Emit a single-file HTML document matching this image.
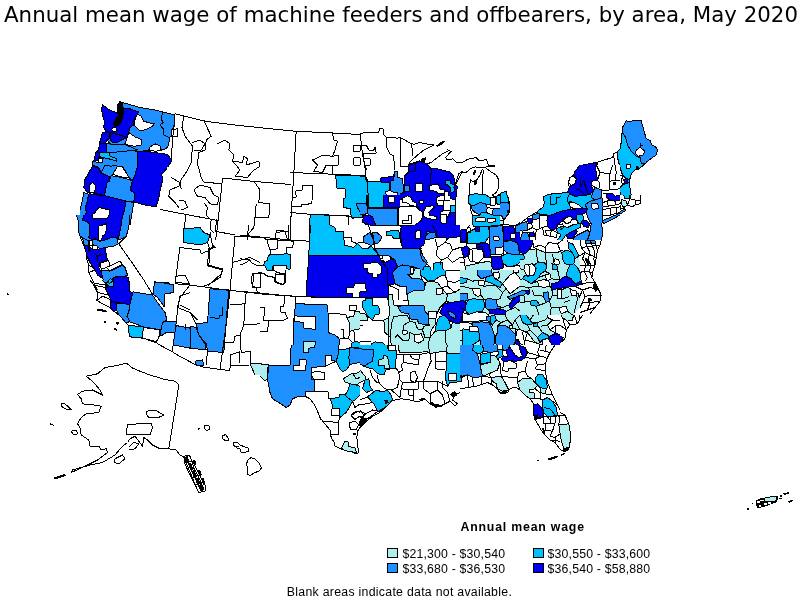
<!DOCTYPE html>
<html><head><meta charset="utf-8"><title>Annual mean wage of machine feeders and offbearers, by area, May 2020</title>
<style>
html,body{margin:0;padding:0;background:#fff;}
body{width:800px;height:600px;overflow:hidden;position:relative;}
svg{position:absolute;left:0;top:0;}
.a{stroke:#000;stroke-width:1;stroke-linejoin:round;}
.l{fill:none;stroke:#000;stroke-width:1;stroke-linejoin:round;}
.t{font-family:"DejaVu Sans","Liberation Sans",sans-serif;font-size:21.9px;fill:#000;}
.g{font-family:"Liberation Sans",sans-serif;font-size:12.3px;fill:#000;}
.h{font-family:"Liberation Sans",sans-serif;font-size:12.3px;font-weight:bold;fill:#000;}
.s{stroke:#000;stroke-width:1;}
</style></head><body>
<svg width="800" height="600" viewBox="0 0 800 600">
<rect width="800" height="600" fill="#fff"/>
<g id="map" shape-rendering="crispEdges">
<polygon class="a" fill="#1E90FF" points="122.5,102.5 140,107.5 155,110 165,112.5 175,115 174,127.5 171.9,130 171.9,135.6 169.4,137.5 168.8,145 166.2,148.8 161.2,150 150,146.9 148.8,150 142.5,151.2 137.5,151.2 135,148.8 123.8,147.5 123.8,145 128.1,133.8 130,127.5 133.8,120 137.5,113.1 130,108.8 122.5,108.8"/>
<polygon class="a" fill="#0000EE" points="102.5,105 110,110.2 117.5,113.1 122.5,108.8 130,108.8 138.8,111.9 136.9,115 133.8,120 133.8,125 130,127.5 128.1,133.8 127.5,137.8 122.5,136 117.5,134 110.6,132.5 106.2,131.2 103.8,127.5 104.4,121.2 102.5,115 101.5,108.8"/>
<polygon class="a" fill="#0000EE" points="105.6,131.9 110,133.1 109.4,138.8 106.9,140 105,145 103.1,148.8 98.8,150 99.4,143.8 102.5,132.5"/>
<polygon class="a" fill="#0000EE" points="110,132.5 127.5,137.5 122.5,139.4 117.5,142.5 111.2,141.9"/>
<polygon class="a" fill="#1E90FF" points="110,133.1 110,135.6 111.2,141.9 117.5,142.5 122.5,139.4 127.5,137.8 123.8,145 123.8,147.5 117.5,148.8 112.5,146.2 106.9,140 109.4,138.8"/>
<polygon class="a" fill="#FFFFFF" points="137.5,114.4 141.2,116.2 143.8,121.2 150,123.1 155,123.1 152.5,126.2 147.5,128.8 142.5,130.6 138.8,130 135,126.2 134.4,121.2 136.2,116.9"/>
<polygon class="a" fill="#FFFFFF" points="128.8,132.5 135,136.9 141.2,139.4 141.2,145 135,146.2 130,145.6 125,144.4 126.9,138.8"/>
<polygon class="a" fill="#FFFFFF" points="150,146.9 155,143.8 160,145.6 161.2,150.6 155,151.2 149.4,150"/>
<polygon class="a" fill="#FFFFFF" points="112.2,127.5 115.6,126.9 117.2,130.6 114.4,131.9 111.9,130"/>
<polygon fill="#000" points="116.9,105.6 119.4,101 122.8,101.9 124,110 123.4,116.2 122.1,120 120.2,125 115.6,126.5 112.5,123.8 115.4,119.4 117.9,115 117.2,110"/>
<polyline class="l" points="162.5,112.5 161.2,118.8 163.1,122.5 160,125 163.1,128.8 163.8,135 169.4,137.5"/>
<polygon class="a" fill="#0000EE" points="137.5,151.2 150,151.9 167.5,154.4 171.9,160.6 167.5,167.5 161.9,174.4 162.5,181.2 160,191.2 158.8,198.8 156.2,206.9 145,205 133.8,201.9 135,193.1 130,190.6 132.5,180.6 135,175 137.5,166.2"/>
<polygon fill="#1E90FF" points="108.8,150 118.8,150 137.5,151.2 137.5,166.2 135,175 132.5,180.6 129.4,178.1 122.5,166.2 117.5,166.2 112.8,174.4 110,176.9 101.2,172.5 98.8,167.5 92.5,165 92.5,161.2 98.8,162.5 100,157.5 99.4,153.1 105,151.2"/>
<path class="l" d="M118.8,150L137.5,151.2L137.5,166.2L135,175L132.5,180.6L129.4,178.1L122.5,166.2L117.5,166.2L112.8,174.4L110,176.9L101.2,172.5L98.8,167.5L92.5,165L92.5,161.2L98.8,162.5L100,157.5L99.4,153.1L105,151.2L108.8,150"/>
<polygon class="a" fill="#FFFFFF" points="117.5,166.2 121.9,166.2 129.4,178.1 121.2,176.9 112.8,174.4"/>
<polygon class="a" fill="#00BFFF" points="99.4,153.1 108.8,151.9 110,156.2 116.9,158.8 116.9,161.2 108.8,158.8 100,156.9"/>
<polygon class="a" fill="#0000EE" points="96.2,151.2 99.4,153.1 98.8,160 93.8,161.2"/>
<polygon class="a" fill="#FFFFFF" points="98.8,158.1 103.1,158.1 102.5,162.5 98.8,162.5"/>
<polygon class="a" fill="#0000EE" points="92.5,166.2 98.8,168.1 101.2,173.1 110,176.9 109.4,181.2 106.9,183.1 104.4,195.6 93.8,193.1 87.5,192.5 83.8,187.5 85,179.4 88.8,172.5"/>
<polygon class="a" fill="#FFFFFF" points="90,184.4 92.5,182.8 96,185.6 94.4,192.5 89.4,191.9"/>
<polygon class="a" fill="#1E90FF" points="111.2,175.6 121.2,177.5 132.5,180.6 130,190.6 135,193.1 133.8,201.9 126.2,201.2 104.4,195.6 106.9,183.1 109.4,181.2"/>
<polygon fill="#1E90FF" points="83.8,192.5 88.8,194.4 87.5,200 85.6,206.2 86.2,212.5 82.5,220 81.2,225 80,225 80,210 82.5,200"/>
<path class="l" d="M83.8,192.5L88.8,194.4L87.5,200L85.6,206.2L86.2,212.5L82.5,220L81.2,225M80,210L82.5,200L83.8,192.5"/>
<polygon fill="#0000EE" points="88.8,193.8 104.4,195.6 126.2,201.2 123.8,212.5 121.2,225 82.5,225 86.2,212.5 85.6,206.2 87.5,200"/>
<path class="l" d="M88.8,193.8L104.4,195.6L126.2,201.2L123.8,212.5L121.2,225M82.5,225L86.2,212.5L85.6,206.2L87.5,200L88.8,193.8"/>
<polygon class="a" fill="#FFFFFF" points="98.8,207.5 110,210 108.8,218.8 98.8,218.1 90.6,216.2 95,212.5"/>
<polygon fill="#1E90FF" points="126.2,201.2 133.8,202.5 130,225 121.2,225 123.8,212.5"/>
<path class="l" d="M126.2,201.2L133.8,202.5L130,225M121.2,225L123.8,212.5L126.2,201.2"/>
<polyline class="l" points="101.2,172.5 105,165 111.2,166.2 116.9,165"/>
<polygon class="a" fill="#1E90FF" points="106.2,143.8 126.2,145 137.5,150 117.5,152 100,153 97.5,151.2 100,146.2"/>
<polygon class="a" fill="#0000EE" points="100,143.8 106.2,143.8 106.2,152 97.5,152.5"/>
<polyline class="l" points="175,113.8 205,121.2 235,125 265,128.2 295,131.2 332.5,133 360,134.5"/>
<polyline class="l" points="296.2,131.2 295,152.5 293.8,173.8 292.5,193.8 291.2,212.5 290,240"/>
<polyline class="l" points="222.5,178 255,181.5 291.2,184.5"/>
<polyline class="l" points="222.5,178 220,202.5 217,230 215.5,240"/>
<polyline class="l" points="160,209.5 186.2,214.5 218,220.5"/>
<polyline class="l" points="175,113.8 173.8,127.5 172.5,140 171.2,161.2"/>
<polyline class="l" points="203.8,120 208.8,131.2 211.2,136.2 206.2,140 205,150 198.8,152.5 197.5,163.8 201.2,177.5 203.8,182 221.2,183.8"/>
<polyline class="l" points="183.8,116.2 182,127.5 185,136.2 192.5,146.2 191.2,162.5 187,171.2 181.2,179.5 178.8,186.2 170,190 168.8,196.2 175,202.5 178.8,207.5"/>
<polyline class="l" points="192.5,142.5 200,140 205,143.8 201.2,150 193.8,150"/>
<polyline class="l" points="171.2,130 177.5,128.8 178,136.2 172,136.2"/>
<polyline class="l" points="217.5,143.8 225,140 230,143.8 228.8,150 233.8,155 232.5,161.2 242.5,162.5 243.8,156.2 247.5,158.8 246.2,165 258.8,161.2 260,166.2 252.5,171.2 247.5,177.5 235,176.2 240,170 236.2,165 232.5,161.2"/>
<polyline class="l" points="253.8,181.2 260,190 258.8,202.5 270,203.8 268.8,217.5 255,217.5 253.8,227.5 247.5,235 247.5,240"/>
<polyline class="l" points="256.2,203.8 255,217.5"/>
<polyline class="l" points="332.5,133 333.8,140 337.5,141.2 335,150 332.5,156.2 338.8,155.5 338,165 332.5,165 332.5,173.8"/>
<polyline class="l" points="312.5,160 322.5,155.5 332.5,156.2"/>
<polyline class="l" points="312.5,160 317.5,165 313.8,171.2 322.5,172.5 326.2,165 332.5,165"/>
<polyline class="l" points="353.8,145 360,145 360,151.2 353.8,151.2 353.8,145"/>
<polyline class="l" points="353.8,157.5 360,157.5 360,165 353.8,165 353.8,157.5"/>
<polyline class="l" points="193.8,190 200,185 210,187.5 213.8,195 218.8,197.5 217.5,205 210,203.8 205,197.5 197.5,196.2 193.8,190"/>
<polyline class="l" points="203.8,202.5 207.5,207.5 206.2,215 211.2,220 210,228.8 213.8,232.5"/>
<polyline class="l" points="178.8,200 185,201.2 187.5,207.5 181.2,210"/>
<polyline class="l" points="171.2,177.5 180,182.5 181.2,188.8"/>
<polyline class="l" points="276.2,232.5 285,231.2 287.5,240"/>
<polygon fill="#00BFFF" points="183.8,228.2 200,229.5 203.8,233.8 208.8,235 207.5,240 183.8,240"/>
<path class="l" d="M183.8,228.2L200,229.5L203.8,233.8L208.8,235L207.5,240M183.8,240L183.8,228.2"/>
<polygon class="a" fill="#00BFFF" points="335.6,175 365,176.2 366.2,182.5 367.5,202.5 356.2,203.8 358.1,208.8 362.5,215 363.1,217.5 351.2,217.5 350.6,208.8 343.8,207.5 343.1,198.8 345,198.1 345,188.8 336.9,188.1"/>
<polygon class="a" fill="#1E90FF" points="356.2,203.8 367.5,202.5 367.5,208.1 366.2,213.8 362.5,215 358.1,208.8"/>
<polygon fill="#00BFFF" points="311.2,214.4 329.4,215 330,226.9 334.4,227.5 335,231.9 348.1,233.1 348.8,240 310,240 309.4,220"/>
<path class="l" d="M311.2,214.4L329.4,215L330,226.9L334.4,227.5L335,231.9L348.1,233.1L348.8,240M310,240L309.4,220L311.2,214.4"/>
<polyline class="l" points="330,215 348.1,215.6 348.8,226.9 343.8,227.5 343.8,232.5"/>
<polyline class="l" points="290,172.5 305,173.1 327.5,174 365,175.6"/>
<polyline class="l" points="290,212.5 311.2,214.4 350,216.2 352.5,218.1 360,217.5"/>
<polyline class="l" points="295.6,190.6 302.5,190 302.5,185.6 312.5,185.6 311.9,203.8 301.9,204.4 301.2,206.2 291.2,206.2"/>
<polyline class="l" points="295.6,190.6 296.2,196.9 292.5,197.5"/>
<polyline class="l" points="365,175.6 366.2,168.8 365,165"/>
<polyline class="l" points="348.8,233.1 355,238.8 353.8,240"/>
<polyline class="l" points="360,133.1 378.8,132.5 379.4,128.8 383.1,128.8 383.8,135 386.9,137.5 397.5,138.1 400,137.5 405,140 410,143.1 413.8,144.4 420,142.5 425,143.8 433.8,145 427.5,148.1 422.5,151.2 417.5,155.6 412.5,160 408.1,164.4"/>
<polyline class="l" points="408.1,164.4 415,161.9 422.5,158.8 425,162.5 430,163.8 435,160 440,156.2 445,151.2 447.5,150 452.5,150.6 449.4,153.8 446.2,157.5 445,160 450,157.5 455,161.2 460,163.1"/>
<polygon fill="#000" points="436.2,145.6 441.2,141.9 445,140.6 444.4,142.5 440,145.6 436.9,146.9"/>
<polygon fill="#000" points="421.2,158.8 426.2,157.2 425,161.2 422.5,164"/>
<polyline class="l" points="360.6,133.1 361.2,145 363.1,157.5 365,167.5 366.2,178.8 367.5,195"/>
<polyline class="l" points="386.9,137.5 386.9,147.5 390,153.8 393.8,156.2 394.4,170"/>
<polyline class="l" points="400,137.5 400,167.5 408.1,168.1"/>
<polyline class="l" points="411.9,144.4 412.5,161.2"/>
<polyline class="l" points="360,145 366.2,145 368.8,150 373.8,150 375,146.9 376.2,153.1 363.8,153.1 363.8,158.8 370,158.8 370,165 364.4,165 363.8,158.8"/>
<polygon fill="#00BFFF" points="360,176.2 365.6,176.9 366.2,181.2 380,181.9 389.4,183.1 390,190 385.6,191.9 386.2,195 360,195"/>
<path class="l" d="M360,176.2L365.6,176.9L366.2,181.2L380,181.9L389.4,183.1L390,190L385.6,191.9L386.2,195"/>
<polyline class="l" points="367.5,178.8 368.1,195"/>
<polygon class="a" fill="#0000EE" points="380.6,178.1 393.8,176.2 394.4,171.2 397.5,171.2 397.5,177.5 402.5,178.1 403.1,180 391.2,181.2 390,183.1 380.6,181.9"/>
<polygon fill="#1E90FF" points="394.4,171.2 397.5,171.2 397.5,177.5 403.1,178.8 404.4,185 410,185 410,191.2 405,191.9 404.4,195 397.5,195 397.5,192.5 391.9,191.9 390,190 390,182.5 391.2,180.6 393.8,180"/>
<path class="l" d="M394.4,171.2L397.5,171.2L397.5,177.5L403.1,178.8L404.4,185L410,185L410,191.2L405,191.9L404.4,195M397.5,195L397.5,192.5L391.9,191.9L390,190L390,182.5L391.2,180.6L393.8,180L394.4,171.2"/>
<polygon fill="#0000EE" points="403.8,175 408.8,171.2 415,170 415,163.1 421.2,161.2 422.5,164 425,163.1 430,166.2 431.2,168.8 440,169.4 450,171.9 453.1,175 453.1,178.8 456.2,182.5 460,182.5 460,195 404.4,195 405,191.9 410,191.2 410,185 404.4,185 403.1,178.8"/>
<path class="l" d="M403.8,175L408.8,171.2L415,170L415,163.1L421.2,161.2L422.5,164L425,163.1L430,166.2L431.2,168.8L440,169.4L450,171.9L453.1,175L453.1,178.8L456.2,182.5L460,182.5M404.4,195L405,191.9L410,191.2L410,185L404.4,185L403.1,178.8L403.8,175"/>
<polygon class="a" fill="#FFFFFF" points="415.6,182.5 422.5,182.5 422.5,191.2 415.6,191.2"/>
<polygon class="a" fill="#FFFFFF" points="428.8,185 439.4,183.8 439.4,189.4 428.8,190"/>
<polygon fill="#FFFFFF" points="440,190 450,190 450,195 440,195"/>
<path class="l" d="M440,190L450,190L450,195M440,195L440,190"/>
<polygon class="a" fill="#00BFFF" points="445,180 447.5,180 453.1,185 453.1,190 450,193.8 447.5,187.5 445,182.5"/>
<polyline class="l" points="431.2,168.8 430.6,185"/>
<polyline class="l" points="408.8,164.4 408.8,171.2"/>
<polyline class="l" points="403.8,185 403.8,195"/>
<polyline class="l" points="460,163.1 467.5,160 473.8,158.1 477.5,156.9 478.8,161.2 483.8,160.6 486.9,159.4 487.5,164.4"/>
<polygon fill="#000" points="487.5,164.8 494.8,165.2 494.8,167.8 487.5,167.8"/>
<polyline class="l" points="487.5,167.5 482.5,168.1 473.8,168.1 467.5,172.5 463.8,177.5 460,182.5"/>
<polyline class="l" points="482.5,170 478.8,175 475,178.8 470,181.9 469.4,190 468.1,195"/>
<polyline class="l" points="484.4,170 490,172.5 496.2,175 498.8,180 498.1,188.1 495.6,193.1 491.2,195"/>
<polyline class="l" points="483.1,170 483.1,176.2 483.8,193.8 468.8,193.8"/>
<polygon fill="#000" points="473.1,170 476.2,170 476,173.8 473.5,173.5"/>
<polygon fill="#000" points="473.8,180 476.9,179.4 476.5,185 474,184.4"/>
<polygon fill="#000" points="471.2,172.5 472.5,172.5 472.5,177.5 471.2,177.5"/>
<polygon fill="#00BFFF" points="472.5,193.8 481.2,193.8 481.2,195 472.5,195"/>
<path class="l" d="M472.5,193.8L481.2,193.8L481.2,195M472.5,195L472.5,193.8"/>
<polygon fill="#00BFFF" points="501.2,192.2 506.2,191.9 506.5,195 500,195"/>
<path class="l" d="M501.2,192.2L506.2,191.9L506.5,195M500,195L501.2,192.2"/>
<polygon fill="#00BFFF" points="552.5,194 556.2,193.8 556.5,195 552.2,195"/>
<path class="l" d="M552.5,194L556.2,193.8L556.5,195M552.2,195L552.5,194"/>
<polygon class="a" fill="#1E90FF" points="626.2,120.6 630,121.9 635,120 641.2,120.6 643.1,127.5 646.2,138.8 650,140.6 651.9,145 655.6,146.9 657.5,150 656.2,155 652.5,157.5 647.5,161.2 645,163.8 641.2,163.1 640,157.5 636.2,156.2 631.2,151.2 627.5,145 625.6,137.5 622.5,132.5 622.5,127.5"/>
<polygon class="a" fill="#FFFFFF" points="636.2,150 640,147.5 645,151.2 642.5,155.6 638.1,156.2 635.6,153.8"/>
<polygon class="a" fill="#00BFFF" points="622.5,132.5 625.6,137.5 627.5,145 631.2,151.2 636.2,156.2 640,157.5 641.2,163.1 645,163.8 640,168.1 635,170 631.2,173.8 630,178.8 627.5,180 622.5,175 620,167.5 617.5,157.5 616.9,152.5 620,148.8 621.2,142.5 621.2,135"/>
<polygon class="a" fill="#FFFFFF" points="626.2,164.4 630,164.4 630,168.1 626.2,168.1"/>
<polygon fill="#000" points="636.2,166.2 639.4,166.9 638.8,170 636.5,169.8"/>
<polyline class="l" points="641.2,142.5 640,146.9 642.5,145"/>
<polygon fill="#0000EE" points="580,165.6 596.2,162.5 597.5,172.5 598.1,177.5 597.5,180 592.5,181.2 591.2,185 593.8,187.5 593.1,195 575,195 572.5,190 567.5,187.5 572.5,186.2 576.2,182.5 575.6,177.5 572.5,175.6 576.2,168.8"/>
<path class="l" d="M580,165.6L596.2,162.5L597.5,172.5L598.1,177.5L597.5,180L592.5,181.2L591.2,185L593.8,187.5L593.1,195M575,195L572.5,190L567.5,187.5L572.5,186.2L576.2,182.5L575.6,177.5L572.5,175.6L576.2,168.8L580,165.6"/>
<polygon class="a" fill="#FFFFFF" points="568.8,177.5 572.5,176.2 576,178.1 576.2,182.5 572.5,186.2 569.4,185 568.1,181.2"/>
<polygon fill="#1E90FF" points="560,192.5 567.5,187.5 572.5,190 575,195 560,195"/>
<path class="l" d="M560,192.5L567.5,187.5L572.5,190L575,195"/>
<polygon fill="#1E90FF" points="592.8,186.9 597.5,188.1 601.2,191.2 601.9,195 593.1,195"/>
<path class="l" d="M592.8,186.9L597.5,188.1L601.2,191.2L601.9,195M593.1,195L592.8,186.9"/>
<polyline class="l" points="596.2,162.5 612.5,157.5 613.8,153.5 616.9,152.5"/>
<polyline class="l" points="613.8,156.2 615,163.8 612.5,170 610,175 609.4,190"/>
<polyline class="l" points="597.5,173.8 610,175"/>
<polyline class="l" points="597.5,163.1 596.2,167.5 600,170 601.2,167.5 603.1,172.5 597.5,173.8"/>
<polyline class="l" points="597.5,180 601.2,185 601.2,191.2"/>
<polyline class="l" points="609.4,190 620,187.5"/>
<polygon fill="#00BFFF" points="620,187.5 627.5,180 630,178.8 629.4,185 631.2,195 621.2,195 619.4,191.2"/>
<path class="l" d="M620,187.5L627.5,180L630,178.8L629.4,185L631.2,195M621.2,195L619.4,191.2L620,187.5"/>
<polygon class="a" fill="#0000EE" points="623.8,179.4 627.5,178.8 628.1,183.1 624.4,183.8"/>
<polyline class="l" points="615,170 617.5,172.5 615,178.8 618.8,182.5 616.2,187.5"/>
<polyline class="l" points="618.8,175 622.5,176.2 621.2,182.5 625,185"/>
<polyline class="l" points="580,178.8 581.9,185 583.8,178.8 585,187.5 586.9,192.5"/>
<polyline class="l" points="577.5,190 582.5,191.2 585,195"/>
<polygon fill="#00BFFF" points="360,195 366.9,195 366.9,203.1 360,203.1"/>
<path class="l" d="M366.9,195L366.9,203.1L360,203.1"/>
<polygon fill="#00BFFF" points="368.1,195 383.1,195 383.1,207.5 368.1,207.5"/>
<path class="l" d="M383.1,195L383.1,207.5L368.1,207.5L368.1,195"/>
<polygon fill="#1E90FF" points="360,203.8 366.9,203.8 367.5,213.8 360,214.4"/>
<path class="l" d="M360,203.8L366.9,203.8L367.5,213.8L360,214.4"/>
<polygon class="a" fill="#1E90FF" points="367.5,208.8 383.1,208.1 397.5,208.8 397.5,225 376.2,225.6 372.5,217.5 367.5,213.8"/>
<polygon class="a" fill="#0000EE" points="363.8,215.6 372.5,216.2 375.6,225.6 368.8,226.2 362.5,221.9"/>
<polygon fill="#0000EE" points="383.1,195 436.2,195 440,202.5 440,207.5 435,219.4 430,220 427.5,215 422.5,213.8 421.2,207.5 398.1,207.5 383.1,207.5"/>
<path class="l" d="M436.2,195L440,202.5L440,207.5L435,219.4L430,220L427.5,215L422.5,213.8L421.2,207.5L398.1,207.5L383.1,207.5L383.1,195"/>
<polygon class="a" fill="#FFFFFF" points="388.1,196.2 394.4,196.2 394.4,202.5 388.1,202.5"/>
<polygon class="a" fill="#FFFFFF" points="401.9,198.8 407.5,197.5 410,195.6 415,198.8 418.8,200 418.8,206.2 410,206.2 407.5,202.5 401.9,202.5"/>
<polygon fill="#0000EE" points="427.5,215 435,219.4 440,207.5 440,202.5 436.2,195 460,195 460,236.2 455,237.5 447.5,238.1 436.2,237.5 433.8,227.5 430,221.9"/>
<path class="l" d="M427.5,215L435,219.4L440,207.5L440,202.5L436.2,195M460,236.2L455,237.5L447.5,238.1L436.2,237.5L433.8,227.5L430,221.9L427.5,215"/>
<polygon class="a" fill="#FFFFFF" points="423.1,208.8 427.5,205.6 435,205 435.6,208.8 431.2,210 428.1,212.5 428.8,216.2 435,216.9 433.8,220 428.1,219.4 423.8,216.2"/>
<polygon class="a" fill="#FFFFFF" points="437.5,195.6 447.5,195.6 447.5,202.5 437.5,202.5"/>
<polygon class="a" fill="#FFFFFF" points="442.5,203.8 455,202.5 456.2,208.8 447.5,207.5 443.1,208.8"/>
<polygon class="a" fill="#FFFFFF" points="440,215 447.5,213.8 447.5,222.5 441.2,223.1"/>
<polygon class="a" fill="#FFFFFF" points="448.1,197.5 455,197.5 455,201.9 448.1,201.9"/>
<polygon class="a" fill="#00BFFF" points="449.4,205 453.8,205 453.8,213.8 449.4,213.8"/>
<polyline class="l" points="402.5,223.8 403.1,220.6 406.9,220 407.5,215.6 411.9,215.6 411.9,221.2"/>
<polyline class="l" points="398.1,207.5 398.1,225"/>
<polygon class="a" fill="#0000EE" points="400,225.6 411.2,224.4 420,223.8 425,223.1 430,221.9 433.8,227.5 436.2,232.5 436.2,237.5 431.2,238.8 425,240 423.8,245 420,247.5 403.8,247.5 402.5,240 400,237.5"/>
<polygon class="a" fill="#FFFFFF" points="415,230 420,230 420,238.1 415,238.1"/>
<polygon class="a" fill="#00BFFF" points="426.2,231.2 430,231.2 429.4,233.8 426.2,233.8"/>
<polygon class="a" fill="#1E90FF" points="425,236.2 430,232.5 435.6,233.1 436.2,237.5 431.2,238.8 425,240"/>
<polygon class="a" fill="#1E90FF" points="362.5,235 367.5,233.8 372.5,236.2 372.5,242.5 365,242.5 362.5,240"/>
<polygon class="a" fill="#1E90FF" points="372.5,231.9 377.5,232.5 380.6,236.2 378.8,243.8 375,243.8 372.5,236.2"/>
<polyline class="l" points="370.6,226.9 397.5,226.2 400,228.8"/>
<polyline class="l" points="375,247.5 401.9,247.5"/>
<polygon class="a" fill="#00BFFF" points="386.2,231.2 398.8,231.2 400,239.4 391.2,239.4 390,235 386.2,235"/>
<polygon fill="#00BFFF" points="360,248.1 373.8,246.2 378.8,255 360,256.2"/>
<path class="l" d="M360,248.1L373.8,246.2L378.8,255L360,256.2"/>
<polygon fill="#1E90FF" points="376.2,248.8 403.8,248.1 420,247.5 422.5,255 427.5,262.5 422.5,270 400,270 397.5,262.5 391.2,257.5 382.5,255 378.8,253.8"/>
<path class="l" d="M376.2,248.8L403.8,248.1L420,247.5L422.5,255L427.5,262.5L422.5,270M400,270L397.5,262.5L391.2,257.5L382.5,255L378.8,253.8L376.2,248.8"/>
<polygon fill="#0000EE" points="360,256.2 378.8,255 382.5,255 391.2,257.5 397.5,262.5 400,270 360,270"/>
<path class="l" d="M360,256.2L378.8,255L382.5,255L391.2,257.5L397.5,262.5L400,270"/>
<polygon fill="#FFFFFF" points="362.5,263.1 372.5,262.5 376.2,263.1 381.2,265 381.2,270 362.5,270"/>
<path class="l" d="M362.5,263.1L372.5,262.5L376.2,263.1L381.2,265L381.2,270M362.5,270L362.5,263.1"/>
<polygon class="a" fill="#FFFFFF" points="381.2,255.6 386.9,254.8 391.2,257.5 388.8,261.2 382.5,261.2"/>
<polygon fill="#00BFFF" points="423.8,266.9 430,266.9 430,270 423.8,270"/>
<path class="l" d="M423.8,266.9L430,266.9L430,270M423.8,270L423.8,266.9"/>
<polygon fill="#00BFFF" points="433.8,263.1 442.5,262.5 443.1,270 433.8,270"/>
<path class="l" d="M433.8,263.1L442.5,262.5L443.1,270M433.8,270L433.8,263.1"/>
<polyline class="l" points="435,238.8 437.5,247.5 445,242.5 447.5,238.8"/>
<polyline class="l" points="437.5,247.5 436.2,255 441.2,260 447.5,257.5 452.5,250 450,243.8 445,242.5"/>
<polyline class="l" points="441.2,260 440,265"/>
<polyline class="l" points="447.5,257.5 452.5,262.5 460,257.5"/>
<polyline class="l" points="452.5,250 460,247.5"/>
<polyline class="l" points="421.2,247.5 420,253.8 422.5,260 428.1,265 430,266.9"/>
<polyline class="l" points="366.2,221.9 370,227.5 372.5,232.5 374.4,245 376.2,248.8 378.8,255 383.8,265 385,270"/>
<polyline class="l" points="360,245 365,245 365,250"/>
<polyline class="l" points="467.5,195 468.1,202.5 471.2,211.2 472.5,220 468.8,226.2 466.2,230"/>
<polyline class="l" points="507.5,195 510,205 509.4,212.5 503.8,220 503.8,224.4 515,225.6 525,220 532.5,215 540,211.2 547.5,206.2 546.2,198.8 543.8,195"/>
<polygon fill="#00BFFF" points="468.1,195 491.2,195 490,202.5 478.8,203.8 468.8,203.1"/>
<path class="l" d="M491.2,195L490,202.5L478.8,203.8L468.8,203.1L468.1,195"/>
<polygon fill="#00BFFF" points="500,195 507.5,195 508.8,202.5 500,203.1"/>
<path class="l" d="M507.5,195L508.8,202.5L500,203.1L500,195"/>
<polygon class="a" fill="#1E90FF" points="472.5,208.8 478.8,203.8 485,203.1 485,207.5 481.9,208.8 481.9,216.2 473.8,216.9 471.2,211.2"/>
<polygon class="a" fill="#1E90FF" points="500,203.1 508.8,202.5 510,211.2 503.8,220 501.2,215 493.8,215 495,208.8 498.8,207.5"/>
<polyline class="l" points="485,195 485,203.1 490,202.5 491.2,207.5 485,207.5"/>
<polyline class="l" points="491.2,207.5 495,208.8"/>
<polyline class="l" points="481.9,216.2 493.8,215"/>
<polyline class="l" points="490,197.5 495,197.5 495,202.5"/>
<polyline class="l" points="485,211.2 492.5,211.2 492.5,215"/>
<polyline class="l" points="472.5,220 473.8,226.2"/>
<polygon class="a" fill="#00BFFF" points="473.8,222.5 501.2,220.6 503.1,224.4 490,226.2 473.8,226.2"/>
<polygon class="a" fill="#AFEEEE" points="499.4,220 503.1,220 503.1,224.4 499.4,224.4"/>
<polygon fill="#000" points="506.9,210 510,210 510,212.5 506.9,212.5"/>
<polygon class="a" fill="#0000EE" points="460.6,230 466.2,229.4 466.2,241.2 460.6,241.2"/>
<polygon class="a" fill="#00BFFF" points="467.5,232.5 478.8,226.9 488.8,226.2 489.4,236.2 485,242.5 478.8,243.1 467.5,243.8"/>
<polygon class="a" fill="#0000EE" points="475.6,226.9 479.4,226.9 479.4,231.2 475.6,231.2"/>
<polyline class="l" points="466.9,227.5 470,227.5 470,232.5 466.9,232.5"/>
<polyline class="l" points="460,242.5 466.2,242.5 466.2,247.5 460,247.5"/>
<polygon class="a" fill="#1E90FF" points="489.4,226.9 502.5,225.6 503.1,232.5 503.8,245 503.8,250 495,255 490.6,253.8 489.4,245"/>
<polygon class="a" fill="#FFFFFF" points="493.8,236.9 498.8,236.9 499.4,240 493.8,240"/>
<polygon class="a" fill="#FFFFFF" points="495,247.5 503.8,246.9 503.8,253.8 495.6,254.8"/>
<polygon class="a" fill="#0000EE" points="503.1,226.2 513.8,226.9 515,232.5 510,235 510,240 503.8,241.2"/>
<polygon class="a" fill="#1E90FF" points="515,226.2 525,221.2 528.1,226.2 527.5,231.2 522.5,232.5 515,232.5"/>
<polygon class="a" fill="#0000EE" points="527.5,218.8 531.9,217.5 532.5,223.1 528.1,224.4"/>
<polygon class="a" fill="#0000EE" points="510,235 515,232.5 522.5,232.5 525,236.2 531.2,237.5 532.5,247.5 530,252.5 522.5,253.8 518.8,250 517.5,242.5 510,240.6"/>
<polygon class="a" fill="#FFFFFF" points="510.6,234 515,233.8 515,238.8 511,238.8"/>
<polygon class="a" fill="#FFFFFF" points="523.1,232.5 527.5,232.5 528.1,237.5 523.8,237.5"/>
<polygon class="a" fill="#1E90FF" points="503.8,241.9 510,240.6 517.5,242.5 518.8,250 520,253.8 515,255 507.5,253.1 503.8,250"/>
<polygon class="a" fill="#00BFFF" points="501.2,256.2 507.5,253.1 515,255 522.5,253.8 523.8,258.8 520,262.5 515,266.2 507.5,266.9 502.5,262.5"/>
<polygon class="a" fill="#0000EE" points="461.2,247.5 467.5,246.2 470,250 468.8,256.2 463.8,257.5"/>
<polygon class="a" fill="#0000EE" points="476.2,245 485,242.5 489.4,245 490.6,253.8 490.6,257.5 485,257.5 482.5,250 476.2,248.8"/>
<polygon class="a" fill="#0000EE" points="491.2,256.9 501.2,256.2 502.5,262.5 503.8,267.5 497.5,270 492.5,268.8 491.2,262.5"/>
<polyline class="l" points="468.8,250 482.5,246.2 483.8,257.5 478.8,262.5 470,261.2 467.5,256.2 468.8,250"/>
<polyline class="l" points="472.5,250 472.5,261.2"/>
<polygon fill="#AFEEEE" points="465,266.2 478.8,263.1 488.8,261.2 491.2,262.5 492.5,268.8 491.2,270 465,270"/>
<path class="l" d="M465,266.2L478.8,263.1L488.8,261.2L491.2,262.5L492.5,268.8L491.2,270M465,270L465,266.2"/>
<polygon fill="#AFEEEE" points="532.5,248.8 540,247.5 545,252.5 552.5,253.8 560,252.5 560,270 530,270 527.5,265 530,257.5"/>
<path class="l" d="M532.5,248.8L540,247.5L545,252.5L552.5,253.8L560,252.5M530,270L527.5,265L530,257.5L532.5,248.8"/>
<polygon class="a" fill="#FFFFFF" points="552.5,257.5 558.8,256.2 560,262.5 553.8,263.1"/>
<polygon class="a" fill="#FFFFFF" points="537.5,263.1 545,262.5 546.2,268.8 538.8,269.4"/>
<polygon fill="#0000EE" points="547.5,216.2 560,211.2 560,225 555,226.2 550,230 546.9,225"/>
<path class="l" d="M547.5,216.2L560,211.2M560,225L555,226.2L550,230L546.9,225L547.5,216.2"/>
<polygon fill="#00BFFF" points="550,238.8 555,236.2 560,236.2 560,244.4 552.5,245"/>
<path class="l" d="M550,238.8L555,236.2L560,236.2M560,244.4L552.5,245L550,238.8"/>
<polygon class="a" fill="#1E90FF" points="532.5,215 540,211.9 540.6,216.9 533.8,218.1"/>
<polygon fill="#00BFFF" points="540,211.2 547.5,206.2 546.2,198.8 543.8,195 560,195 560,208.8 547.5,213.8"/>
<path class="l" d="M540,211.2L547.5,206.2L546.2,198.8L543.8,195M560,208.8L547.5,213.8L540,211.2"/>
<polyline class="l" points="532.5,223.1 535,232.5 532.5,237.5"/>
<polyline class="l" points="535,232.5 545,231.2 547.5,225"/>
<polyline class="l" points="545,231.2 550,238.8"/>
<polyline class="l" points="535,218.8 541.2,217.5 547.5,216.2"/>
<polyline class="l" points="541.2,217.5 542.5,227.5"/>
<polyline class="l" points="532.5,247.5 540,247.5"/>
<polyline class="l" points="535,237.5 541.2,240 547.5,237.5 550,238.8"/>
<polyline class="l" points="541.2,240 540,247.5"/>
<polyline class="l" points="546.2,232.5 552.5,231.2 555,226.2"/>
<polyline class="l" points="552.5,231.2 557.5,235 560,232.5"/>
<polyline class="l" points="460,257.5 463.8,257.5 465,266.2"/>
<polyline class="l" points="460,262.5 465,263.1"/>
<polyline class="l" points="512.5,266.2 518.8,265 522.5,270"/>
<polyline class="l" points="525,255 530,257.5"/>
<polygon fill="#00BFFF" points="560,195 602.5,195 603.1,210 601.2,211.2 591.2,213.8 587.5,207.5 576.2,207.5 566.2,208.8 560,211.2"/>
<path class="l" d="M602.5,195L603.1,210L601.2,211.2L591.2,213.8L587.5,207.5L576.2,207.5L566.2,208.8L560,211.2"/>
<polygon fill="#0000EE" points="560,211.2 566.2,208.8 576.2,207.5 587.5,207.5 588.8,210 582.5,211.2 572.5,212.5 566.2,216.2 562.5,220 560,217.5"/>
<path class="l" d="M560,211.2L566.2,208.8L576.2,207.5L587.5,207.5L588.8,210L582.5,211.2L572.5,212.5L566.2,216.2L562.5,220L560,217.5"/>
<polygon fill="#0000EE" points="570,195 582.5,195 581.9,197.8 570.6,198.1"/>
<path class="l" d="M582.5,195L581.9,197.8L570.6,198.1L570,195"/>
<polygon class="a" fill="#FFFFFF" points="567.5,205 572.5,202.5 581.2,203.8 581.9,207.5 572.5,208.8 568.1,208.8"/>
<polygon class="a" fill="#FFFFFF" points="591.2,205 597.5,202.5 599.4,207.5 593.8,208.8"/>
<polygon class="a" fill="#FFFFFF" points="568.8,200 572.5,199.4 572.5,202.5 569.4,202.8"/>
<polygon class="a" fill="#1E90FF" points="591.2,213.8 601.2,211.2 603.1,213.8 602.5,223.8 603.1,232.5 602.5,237.5 600,245 596.2,245 591.2,243.8 588.8,238.8 585,237.5 588.8,231.2 591.2,226.2 588.8,220 590,216.2"/>
<polygon class="a" fill="#00BFFF" points="572.5,212.5 582.5,211.2 588.8,210 591.2,213.8 590,216.2 588.8,220 585,221.2 581.2,223.1 577.5,224.4 576.2,220 568.8,216.9 566.2,216.2"/>
<polygon class="a" fill="#FFFFFF" points="563.8,218.8 568.8,216.9 576.2,220 577.5,224.4 572.5,222.5 567.5,223.8"/>
<polygon class="a" fill="#FFFFFF" points="583.8,218.1 588.5,218.1 588.8,222.8 584.4,223.1"/>
<polygon class="a" fill="#0000EE" points="581.2,223.1 585,221.2 591.2,221.9 591.2,226.2 587.5,227.5 583.8,226.2"/>
<polygon fill="#00BFFF" points="560,217.5 562.5,220 563.8,218.8 567.5,223.8 573.8,226.2 573.8,229.4 566.2,231.2 565,235 562.5,236.2 560,237.5"/>
<path class="l" d="M560,217.5L562.5,220L563.8,218.8L567.5,223.8L573.8,226.2L573.8,229.4L566.2,231.2L565,235L562.5,236.2L560,237.5"/>
<polygon class="a" fill="#0000EE" points="566.2,231.2 573.8,229.4 576.2,232.5 572.5,236.2 567.5,236.9 565,235"/>
<polygon class="a" fill="#1E90FF" points="573.8,229.4 581.2,225 587.5,227.5 588.8,231.2 585,237.5 580,238.1 583.1,236.2 581.2,231.9 576.2,233.8 576.2,232.5"/>
<polygon class="a" fill="#0000EE" points="576.2,233.8 581.2,231.9 583.1,236.2 580,238.1 576.2,237.5"/>
<polygon class="a" fill="#1E90FF" points="572.5,236.2 576.2,237.5 580,238.1 585,237.5 588.8,238.8 591.2,243.8 585,242.5 581.2,240.6 571.2,241.9 568.8,238.1"/>
<polygon class="a" fill="#FFFFFF" points="595,237.5 600,237.5 599.8,242.5 595.6,242.2"/>
<polygon class="a" fill="#0000EE" points="591.2,241.2 596.2,241.2 596.2,244 591.2,243.8"/>
<polygon class="a" fill="#AFEEEE" points="571.2,241.9 581.2,240.6 581.9,245 578.8,251.2 575,248.8"/>
<polygon fill="#00BFFF" points="567.5,245 575,248.8 578.8,251.2 580,257.5 576.2,260 573.8,265 572.5,270 560,270 560,255 562.5,250"/>
<path class="l" d="M567.5,245L575,248.8L578.8,251.2L580,257.5L576.2,260L573.8,265L572.5,270M560,255L562.5,250L567.5,245"/>
<polygon class="a" fill="#FFFFFF" points="561.2,263.1 567.5,263.1 568.8,268.8 562.5,269.4"/>
<polyline class="l" points="560,237.5 563.8,240 562.5,245 567.5,245"/>
<polyline class="l" points="563.8,240 568.8,238.1"/>
<polyline class="l" points="560,247.5 562.5,250"/>
<polygon class="a" fill="#1E90FF" points="602.5,220.6 610,216.5 618.8,212.5 625,208.8 625.5,210.5 618.8,215 610,220 603.1,224"/>
<polyline class="l" points="603.1,210 625,208.8"/>
<polygon fill="#0000EE" points="606.2,195 620,195 618.8,200 615,202.5 610,200 606.2,198.8"/>
<path class="l" d="M620,195L618.8,200L615,202.5L610,200L606.2,198.8L606.2,195"/>
<polygon class="a" fill="#AFEEEE" points="621.9,199.4 626.2,201.2 627.5,205 623.8,207.5 621.2,203.8"/>
<polygon fill="#00BFFF" points="623.8,195 630,195 629.4,198.5 624.4,198.8"/>
<path class="l" d="M630,195L629.4,198.5L624.4,198.8L623.8,195"/>
<polyline class="l" points="640,195 640,203.8 635,205 632.5,206.9 627.5,205"/>
<polyline class="l" points="630,198.8 635,200 640,200.6"/>
<polyline class="l" points="635,200 635,205"/>
<polyline class="l" points="603.1,200 610,200"/>
<polyline class="l" points="603.8,205 610,206.2 615,202.5"/>
<polyline class="l" points="610,206.2 611.2,209.8"/>
<polyline class="l" points="615,202.5 616.2,209.4"/>
<polyline class="l" points="618.8,200 621.2,203.8 620.6,209"/>
<polyline class="l" points="605,202.5 607.5,208.8"/>
<polyline class="l" points="612.5,203.8 613.8,207.5"/>
<polyline class="l" points="630,195 630,198.8 627.5,205"/>
<polyline class="l" points="600,245 597.5,248.8 597.5,257.5 595,265 593.8,270"/>
<polyline class="l" points="581.9,245 585,242.5 591.2,243.8"/>
<polyline class="l" points="581.2,245 582.5,250 580.6,255 583.8,260 581.9,265 585,270"/>
<polyline class="l" points="585,245 586.9,250 585.6,255 588.1,260 586.9,265 590,270"/>
<polyline class="l" points="589.4,245 591.2,250 590,255 592.5,260 591.2,265 593.1,270"/>
<polyline class="l" points="593.8,245 595,250 593.8,255 595.6,260"/>
<polyline class="l" points="582.5,250 595,250"/>
<polyline class="l" points="580.6,255 596.2,255"/>
<polyline class="l" points="583.8,260 596.2,260"/>
<polyline class="l" points="581.9,265 595,265"/>
<polyline class="l" points="575,265 581.9,265"/>
<polyline class="l" points="576.2,260 583.8,260"/>
<polygon fill="#000" points="588.1,260 590.6,260.6 590,265 587.8,264.4"/>
<polygon fill="#000" points="582.5,265 585,265.6 586.9,270 584.4,270"/>
<polygon fill="#0000EE" points="360,270 392.5,270 392.5,282.5 387.5,283.1 386.9,298.1 360,298.1"/>
<path class="l" d="M392.5,270L392.5,282.5L387.5,283.1L386.9,298.1L360,298.1"/>
<polygon fill="#FFFFFF" points="368.1,270 382.5,270 381.9,275 376.2,277.5 372.5,275 368.1,273.8"/>
<path class="l" d="M382.5,270L381.9,275L376.2,277.5L372.5,275L368.1,273.8L368.1,270"/>
<polygon fill="#FFFFFF" points="360,283.8 366.2,283.8 366.2,291.2 360,291.2"/>
<path class="l" d="M360,283.8L366.2,283.8L366.2,291.2L360,291.2"/>
<polyline class="l" points="382.5,270 382.5,282.5 387.5,283.1"/>
<polygon fill="#AFEEEE" points="388.1,294.4 392.5,293.8 393.8,300 408.1,300 407.5,291.9 410,291.2 418.8,290.6 424.4,290 425.6,282.5 430,281.2 437.5,282.5 441.2,287.5 447.5,295 446.2,301.2 440,307.5 437.5,312.5 435,320 435,325 431.2,330 430,337.5 428.1,345 391.2,345 390.6,337.5 385,332.5 383.8,320 388.8,317.5 390,307.5 388.1,305"/>
<path class="l" d="M388.1,294.4L392.5,293.8L393.8,300L408.1,300L407.5,291.9L410,291.2L418.8,290.6L424.4,290L425.6,282.5L430,281.2L437.5,282.5L441.2,287.5L447.5,295L446.2,301.2L440,307.5L437.5,312.5L435,320L435,325L431.2,330L430,337.5L428.1,345M391.2,345L390.6,337.5L385,332.5L383.8,320L388.8,317.5L390,307.5L388.1,305L388.1,294.4"/>
<polygon class="a" fill="#1E90FF" points="393.1,272.5 407.5,270 408.8,275 412.5,278.8 422.5,280 425,283.8 424.4,290 418.8,290.6 410,291.2 407.5,297.5 402.5,300 399.4,295 398.8,286.2 393.8,283.8"/>
<polygon class="a" fill="#AFEEEE" points="407.5,275 420,273.8 422.5,280 412.5,278.8 408.8,275.6"/>
<polygon class="a" fill="#FFFFFF" points="388.1,283.8 398.8,286.2 399.4,295 402.5,300 408.1,300 408.1,305 393.8,305 393.1,293.8 388.1,293.8"/>
<polygon class="a" fill="#1E90FF" points="397.5,306.2 410,305.6 423.8,305 425,311.2 428.1,315 428.1,324.4 418.8,323.8 417.5,320 410,318.8 408.8,313.8 401.2,312.5"/>
<polygon class="a" fill="#FFFFFF" points="428.1,311.9 436.2,311.9 436.2,318.1 428.1,318.1"/>
<polygon fill="#00BFFF" points="420,270 446.2,270 445,275 440,276.2 435,280 427.5,281.2 423.8,277.5 420,273.8"/>
<path class="l" d="M446.2,270L445,275L440,276.2L435,280L427.5,281.2L423.8,277.5L420,273.8L420,270"/>
<polyline class="l" points="446.2,270 460,270"/>
<polyline class="l" points="445,275 447.5,281.2 455,282.5 460,280"/>
<polyline class="l" points="441.2,287.5 447.5,286.2 447.5,281.2"/>
<polyline class="l" points="447.5,286.2 455,292.5"/>
<polygon class="a" fill="#FFFFFF" points="436.2,288.8 442.5,288.8 443.1,293.8 436.9,294.4"/>
<polygon fill="#AFEEEE" points="447.5,293.8 455,292.5 460,288.8 460,301.2 450,302.5 446.2,301.2"/>
<path class="l" d="M447.5,293.8L455,292.5L460,288.8M460,301.2L450,302.5L446.2,301.2L447.5,293.8"/>
<polygon fill="#0000EE" points="443.8,303.8 450,302.5 460,301.2 460,323.8 452.5,322.5 447.5,318.8 442.5,315.6 440,312.5"/>
<path class="l" d="M443.8,303.8L450,302.5L460,301.2M460,323.8L452.5,322.5L447.5,318.8L442.5,315.6L440,312.5L443.8,303.8"/>
<polygon class="a" fill="#1E90FF" points="447.5,311.2 452.5,312.5 456.2,316.2 455,318.8 450,316.2"/>
<polygon class="a" fill="#00BFFF" points="440,316.2 445,315.6 448.8,320 450,323.8 451.2,327.5 447.5,330 435,331.2 436.2,325 437.5,320"/>
<polygon fill="#AFEEEE" points="430,337.5 435,331.2 447.5,330 451.2,327.5 452.5,322.5 460,323.8 460,345 428.1,345"/>
<path class="l" d="M430,337.5L435,331.2L447.5,330L451.2,327.5L452.5,322.5L460,323.8M428.1,345L430,337.5"/>
<polyline class="l" points="445,330 446.2,345"/>
<polygon class="a" fill="#00BFFF" points="362.5,301.2 367.5,299.4 372.5,300 372.5,305 378.8,306.2 380,313.8 375,315 372.5,320 367.5,316.2 365,311.2 362.5,307.5"/>
<polygon fill="#AFEEEE" points="360,313.8 365,313.8 367.5,317.5 367.5,320 360,320"/>
<path class="l" d="M360,313.8L365,313.8L367.5,317.5L367.5,320L360,320"/>
<polyline class="l" points="372.5,300 386.9,298.8"/>
<polyline class="l" points="383.8,320 372.5,320"/>
<polyline class="l" points="360,325 362.5,325"/>
<polygon fill="#00BFFF" points="371.2,343.8 375,341.9 382.5,342.5 385,345 371.2,345"/>
<path class="l" d="M371.2,343.8L375,341.9L382.5,342.5L385,345M371.2,345L371.2,343.8"/>
<polygon class="a" fill="#FFFFFF" points="402.5,330 406.9,330 407.5,333.8 403.1,334.4"/>
<polygon class="a" fill="#FFFFFF" points="415,335 421.2,333.8 423.8,340 418.8,343.1 414.4,341.2"/>
<polyline class="l" points="393.8,316.2 407.5,315.6 410,321.2 403.8,325 403.1,330"/>
<polyline class="l" points="393.8,316.2 391.2,325 390.6,337.5"/>
<polyline class="l" points="395,337.5 397.5,335 402.5,340 408.8,340 410,332.5 415,335"/>
<polyline class="l" points="410,321.2 415,322.5 417.5,328.8 422.5,330 423.8,326.2 430,325 428.1,324.4"/>
<polyline class="l" points="422.5,330 425,337.5 430,337.5"/>
<polyline class="l" points="360,341.2 371.2,341.9"/>
<polyline class="l" points="388.8,317.5 388.8,345"/>
<polygon fill="#AFEEEE" points="460,270 560,270 560,345 460,345"/>
<polygon class="a" fill="#FFFFFF" points="502.5,283.8 510,275 515,272.5 522.5,281.2 520,286.2 515,290 510,293.8 506.2,288.8"/>
<polygon class="a" fill="#FFFFFF" points="493.8,272.5 498.8,271.9 500,276.2 497.5,279.4 493.8,277.5"/>
<polygon class="a" fill="#FFFFFF" points="537.5,281.9 542.5,280 546.2,283.8 543.8,287.5 538.8,286.2"/>
<polygon class="a" fill="#FFFFFF" points="462.5,312.5 468.8,314.4 476.2,311.9 485,312.5 488.8,315 486.9,320 472.5,321.9 462.5,321.9"/>
<polygon fill="#FFFFFF" points="460,322.5 471.2,323.1 472.5,326.2 469.4,330 460,330"/>
<path class="l" d="M460,322.5L471.2,323.1L472.5,326.2L469.4,330L460,330"/>
<polygon class="a" fill="#FFFFFF" points="469.4,326.9 477.5,326.2 478.8,331.2 470,331.9"/>
<polygon class="a" fill="#FFFFFF" points="472.5,288.8 480,288.8 480.6,295 478.1,296.9 473.8,293.8"/>
<polygon fill="#FFFFFF" points="547.5,313.8 560,312.5 560,335 555,332.5 550,330 547.5,325 552.5,320 547.5,317.5"/>
<path class="l" d="M547.5,313.8L560,312.5M560,335L555,332.5L550,330L547.5,325L552.5,320L547.5,317.5L547.5,313.8"/>
<polygon class="a" fill="#FFFFFF" points="515,328.8 520,330 520,335 515,333.8"/>
<polygon class="a" fill="#FFFFFF" points="509.4,325 512.5,325 513.1,328.8 509.4,328.8"/>
<polygon class="a" fill="#FFFFFF" points="482.5,332.5 488.8,332.5 489.4,336.2 483.1,336.2"/>
<polygon fill="#FFFFFF" points="526.2,270 535,270 536.2,275 530,277.5 526.2,273.8"/>
<path class="l" d="M535,270L536.2,275L530,277.5L526.2,273.8L526.2,270"/>
<polygon fill="#FFFFFF" points="513.8,270 518.8,270 518.8,272.5 513.8,272.5"/>
<path class="l" d="M518.8,270L518.8,272.5L513.8,272.5L513.8,270"/>
<polygon class="a" fill="#FFFFFF" points="546.2,275 552.5,273.8 555,278.8 550,283.8 546.2,280"/>
<polygon fill="#FFFFFF" points="542.5,340 550,337.5 552.5,345 542.5,345"/>
<path class="l" d="M542.5,340L550,337.5L552.5,345M542.5,345L542.5,340"/>
<polygon fill="#FFFFFF" points="517.5,328.8 527.5,332.5 535,342.5 542,345 522.5,345 515,340"/>
<path class="l" d="M517.5,328.8L527.5,332.5L535,342.5L542,345M522.5,345L515,340L517.5,328.8"/>
<polyline class="l" points="522.5,332.5 525,345"/>
<polyline class="l" points="527.5,332.5 525,340 535,342.5"/>
<polygon class="a" fill="#FFFFFF" points="478.8,280 485,281.2 483.8,286.2 478.8,285"/>
<polygon class="a" fill="#00BFFF" points="485,277.5 492.5,275 495,278.8 501.2,282.5 502.5,283.8 500,287.5 495,285 490,282.5 485,281.2"/>
<polygon class="a" fill="#00BFFF" points="520,275 525,272.5 527.5,277.5 533.8,278.8 540,276.2 540,280 535,282.5 527.5,283.1 522.5,281.2"/>
<polygon class="a" fill="#00BFFF" points="467.5,300.6 472.5,298.8 483.8,299.4 484.4,307.5 482.5,311.2 476.2,311.9 468.8,314.4 465,310 466.2,303.8"/>
<polygon fill="#00BFFF" points="460,277.5 467.5,278.8 466.2,282.5 460,283.8"/>
<path class="l" d="M460,277.5L467.5,278.8L466.2,282.5L460,283.8"/>
<polygon class="a" fill="#00BFFF" points="530,300 537.5,299.4 540,305 531.2,305.6"/>
<polygon class="a" fill="#00BFFF" points="520,315 525,313.8 530,320 532.5,323.8 527.5,325 522.5,322.5"/>
<polygon fill="#00BFFF" points="462.5,328.8 469.4,330 470,331.9 478.8,331.2 480,340 472.5,345 462.5,345"/>
<path class="l" d="M462.5,328.8L469.4,330L470,331.9L478.8,331.2L480,340L472.5,345M462.5,345L462.5,328.8"/>
<polygon class="a" fill="#00BFFF" points="488.8,316.2 495,315.6 496.2,320 492.5,325 490,322.5"/>
<polygon class="a" fill="#00BFFF" points="537.5,337.5 542.5,332.5 547.5,335 550,337.5 542.5,340 540,342.5"/>
<polygon class="a" fill="#00BFFF" points="532.5,322.5 537.5,322.5 538.1,326.2 533.8,326.9"/>
<polygon fill="#1E90FF" points="477.5,270 491.2,270 492.5,275 485,277.5 481.2,278.8 477.5,275"/>
<path class="l" d="M491.2,270L492.5,275L485,277.5L481.2,278.8L477.5,275L477.5,270"/>
<polygon class="a" fill="#1E90FF" points="485,300 488.8,298.1 496.2,300 497.5,306.2 502.5,307.5 497.5,308.8 488.8,310 485,307.5"/>
<polygon fill="#1E90FF" points="460,293.8 467.5,293.1 468.1,300 465,301.2 460,300"/>
<path class="l" d="M460,293.8L467.5,293.1L468.1,300L465,301.2L460,300"/>
<polygon fill="#1E90FF" points="472.5,322.5 481.2,321.9 488.8,322.5 492.5,328.8 495,337.5 493.8,345 480,345 480,340 478.8,331.2 477.5,326.2 472.5,326.2"/>
<path class="l" d="M472.5,322.5L481.2,321.9L488.8,322.5L492.5,328.8L495,337.5L493.8,345M480,345L480,340L478.8,331.2L477.5,326.2L472.5,326.2L472.5,322.5"/>
<polygon fill="#1E90FF" points="497.5,326.2 505,325 510,328.8 515,333.8 516.2,340 513.8,345 496.2,345 495,337.5 497.5,332.5"/>
<path class="l" d="M497.5,326.2L505,325L510,328.8L515,333.8L516.2,340L513.8,345M496.2,345L495,337.5L497.5,332.5L497.5,326.2"/>
<polygon class="a" fill="#1E90FF" points="543.8,292.5 548.8,291.9 549.4,302.5 546.2,303.8 543.8,298.8"/>
<polygon class="a" fill="#1E90FF" points="486.9,316.2 490,316.2 490,322.5 486.9,320"/>
<polygon class="a" fill="#1E90FF" points="507.5,296.9 515,293.8 522.5,290.6 527.5,290 527.5,291.9 521.2,295 516.2,296.9 510,299.4"/>
<polygon fill="#0000EE" points="460,300 465,301.2 466.2,303.8 465,310 462.5,312.5 461.2,321.2 460,321.9"/>
<path class="l" d="M460,300L465,301.2L466.2,303.8L465,310L462.5,312.5L461.2,321.2L460,321.9"/>
<polygon class="a" fill="#0000EE" points="488.8,310 497.5,308.8 502.5,309.4 506.2,311.2 505,314.4 498.8,315 492.5,313.8 489.4,313.1"/>
<polygon class="a" fill="#0000EE" points="508.8,305 512.5,300 516.2,296.9 521.2,295 527.5,291.2 530,293.1 526.2,296.9 520,300.6 515,305 511.2,308.8 509.4,307.5"/>
<polygon fill="#0000EE" points="551.9,282.5 560,282.5 560,290 552.5,289.4"/>
<path class="l" d="M551.9,282.5L560,282.5M560,290L552.5,289.4L551.9,282.5"/>
<polygon fill="#0000EE" points="550,336.2 555,333.8 560,335 560,345 552.5,345 548.8,340"/>
<path class="l" d="M550,336.2L555,333.8L560,335M552.5,345L548.8,340L550,336.2"/>
<polygon fill="#0000EE" points="515,339.4 518.8,340 520,345 516.2,345"/>
<path class="l" d="M515,339.4L518.8,340L520,345M516.2,345L515,339.4"/>
<polyline class="l" points="460,286.2 467.5,287.5 472.5,288.8"/>
<polyline class="l" points="467.5,278.8 472.5,281.2 478.8,280"/>
<polyline class="l" points="480.6,295 485,300"/>
<polyline class="l" points="483.8,286.2 495,285 502.5,292.5 506.2,288.8"/>
<polyline class="l" points="502.5,292.5 500,298.8 496.2,300"/>
<polyline class="l" points="502.5,307.5 508.8,305"/>
<polyline class="l" points="506.2,311.2 515,307.5 520,311.2 525,313.8"/>
<polyline class="l" points="520,311.2 522.5,305 530,300"/>
<polyline class="l" points="522.5,305 520,300.6"/>
<polyline class="l" points="530,293.1 535,295 540,291.2 543.8,292.5"/>
<polyline class="l" points="535,295 533.8,300"/>
<polyline class="l" points="540,291.2 540,280"/>
<polyline class="l" points="549.4,302.5 555,301.2 560,303.8"/>
<polyline class="l" points="555,301.2 556.2,290"/>
<polyline class="l" points="549.4,295 555,292.5"/>
<polyline class="l" points="540,305 542.5,311.2 547.5,313.8"/>
<polyline class="l" points="542.5,311.2 535,312.5 530,320"/>
<polyline class="l" points="535,312.5 531.2,305.6"/>
<polyline class="l" points="532.5,323.8 537.5,322.5 545,320 547.5,317.5"/>
<polyline class="l" points="538.1,326.2 542.5,332.5"/>
<polyline class="l" points="527.5,325 530,330 537.5,337.5"/>
<polyline class="l" points="530,330 525,332.5"/>
<polyline class="l" points="505,314.4 507.5,320 512.5,325"/>
<polyline class="l" points="507.5,320 501.2,322.5 497.5,326.2"/>
<polyline class="l" points="501.2,322.5 496.2,320"/>
<polyline class="l" points="520,315 515,320 512.5,325"/>
<polyline class="l" points="515,320 520,330"/>
<polyline class="l" points="488.8,322.5 492.5,325"/>
<polyline class="l" points="510,328.8 515,328.8"/>
<polyline class="l" points="516.2,340 522.5,345"/>
<polyline class="l" points="460,340 462.5,340"/>
<polyline class="l" points="547.5,325 541.2,326.2"/>
<polyline class="l" points="552.5,320 560,320"/>
<polyline class="l" points="555,332.5 556.2,325 560,325"/>
<polyline class="l" points="550,330 556.2,325"/>
<polyline class="l" points="460,307.5 465,310"/>
<polyline class="l" points="593.8,270 593.1,280 596.2,286.2 600,292.5 600.6,300 596.2,303.8 591.2,311.2 585,312.5 580,318.8 577.5,323.8 570,325 566.2,330 565.6,337.5 562.5,341.2 560,342.5"/>
<polygon fill="#00BFFF" points="565,270 580,270 580,276.2 578.8,281.2 575,280 571.2,278.8 567.5,275"/>
<path class="l" d="M580,270L580,276.2L578.8,281.2L575,280L571.2,278.8L567.5,275L565,270"/>
<polygon fill="#0000EE" points="560,277.5 565,275 567.5,275 571.2,278.8 575,280 578.8,281.2 581.2,285 572.5,286.2 565,287.5 560,288.1"/>
<path class="l" d="M560,277.5L565,275L567.5,275L571.2,278.8L575,280L578.8,281.2L581.2,285L572.5,286.2L565,287.5L560,288.1"/>
<polygon fill="#AFEEEE" points="562.5,288.8 567.5,287.5 570,292.5 568.8,297.5 572.5,301.2 578.8,301.2 580,307.5 578.8,311.2 573.8,313.8 572.5,320 567.5,321.2 562.5,317.5 560,313.8 560,307.5 563.8,303.8 561.2,298.8"/>
<path class="l" d="M562.5,288.8L567.5,287.5L570,292.5L568.8,297.5L572.5,301.2L578.8,301.2L580,307.5L578.8,311.2L573.8,313.8L572.5,320L567.5,321.2L562.5,317.5L560,313.8M560,307.5L563.8,303.8L561.2,298.8L562.5,288.8"/>
<polygon class="a" fill="#FFFFFF" points="571.9,300.6 575.6,300.6 576.2,305.6 571.9,306.2"/>
<polygon class="a" fill="#AFEEEE" points="583.1,297.5 588.1,296.9 588.8,301.2 583.8,301.9"/>
<polygon class="a" fill="#AFEEEE" points="585.6,306.2 590,305.6 590.6,309.4 586.2,310"/>
<polygon fill="#0000EE" points="560,336.2 563.1,337.5 561.2,341.9 560,342.5"/>
<path class="l" d="M560,336.2L563.1,337.5L561.2,341.9L560,342.5"/>
<polyline class="l" points="580,270 582.5,275 581.2,285 585,287.5 583.8,292.5 578.8,293.8 570,292.5"/>
<polyline class="l" points="582.5,275 588.8,275 590,270"/>
<polyline class="l" points="585,270 585.6,275"/>
<polyline class="l" points="588.8,275 588.1,281.2 593.1,280"/>
<polyline class="l" points="588.1,281.2 585,287.5 591.2,288.8 596.2,286.2"/>
<polyline class="l" points="591.2,288.8 590,295 583.8,292.5"/>
<polyline class="l" points="590,295 595,296.2 600,292.5"/>
<polyline class="l" points="595,296.2 593.8,302.5 588.8,301.2"/>
<polyline class="l" points="593.8,302.5 596.2,303.8"/>
<polyline class="l" points="578.8,293.8 580,301.2"/>
<polyline class="l" points="580,307.5 586.2,310"/>
<polyline class="l" points="578.8,311.2 580,318.8"/>
<polyline class="l" points="573.8,313.8 577.5,323.8"/>
<polyline class="l" points="567.5,321.2 570,325"/>
<polyline class="l" points="562.5,317.5 566.2,330"/>
<polyline class="l" points="560,325 566.2,330"/>
<polyline class="l" points="560,288.8 562.5,288.8"/>
<polyline class="l" points="563.8,303.8 568.8,305 572.5,301.2"/>
<polyline class="l" points="565,310 572.5,311.2"/>
<polygon fill="#000" points="589.4,282.5 593.1,281.9 595,286.2 596.2,291.2 594.4,295 592.5,290 590,287.5"/>
<polygon fill="#000" points="586.2,298.8 590,298.1 590.6,302.5 586.9,303.1"/>
<polygon fill="#AFEEEE" points="398.8,345 460,345 460,353.1 447.5,353.1 446.2,351.2 435,352.5 430,353.8 427.5,351.9 400,352.5 398.8,350"/>
<path class="l" d="M460,353.1L447.5,353.1L446.2,351.2L435,352.5L430,353.8L427.5,351.9L400,352.5L398.8,350L398.8,345"/>
<polyline class="l" points="428.1,345 430,353.8"/>
<polyline class="l" points="447.5,345 446.2,351.2"/>
<polygon fill="#00BFFF" points="360,345 368.8,345 387.5,345 388.1,350 396.2,350.6 396.2,357.5 395,368.1 386.2,369.4 383.8,375 377.5,373.8 372.5,368.8 367.5,367.5 363.8,366.2 372.5,361.2 373.8,350 360,348.8"/>
<path class="l" d="M387.5,345L388.1,350L396.2,350.6L396.2,357.5L395,368.1L386.2,369.4L383.8,375L377.5,373.8L372.5,368.8L367.5,367.5L363.8,366.2L372.5,361.2L373.8,350L360,348.8"/>
<polygon class="a" fill="#AFEEEE" points="378.8,360 383.1,358.8 383.8,355.6 387.5,356.2 388.8,363.8 390,368.8 385,368.8 384.4,365.6 378.8,365.6"/>
<polygon class="a" fill="#FFFFFF" points="388.1,345.6 395.6,345.6 395.6,350 388.1,350"/>
<polygon fill="#1E90FF" points="360,348.8 373.8,350 372.5,361.2 363.8,366.2 360,363.8"/>
<path class="l" d="M360,348.8L373.8,350L372.5,361.2L363.8,366.2L360,363.8"/>
<polygon fill="#AFEEEE" points="360,370 365,376.2 365,380 360,382.5"/>
<path class="l" d="M360,370L365,376.2L365,380L360,382.5"/>
<polygon class="a" fill="#00BFFF" points="365,380 368.8,378.8 370,386.2 372.5,390 366.2,392.5 362.5,388.8"/>
<polygon class="a" fill="#00BFFF" points="367.5,396.9 376.2,390 382.5,391.9 387.5,390 391.2,395 392.5,400 386.9,406.2 381.2,411.2 377.5,411.2 373.8,403.8"/>
<polygon fill="#00BFFF" points="446.2,353.8 460,353.1 460,381.2 455,382.5 450,382.5 447.5,386.2 446.2,381.2 445,376.2 446.2,370"/>
<path class="l" d="M446.2,353.8L460,353.1M460,381.2L455,382.5L450,382.5L447.5,386.2L446.2,381.2L445,376.2L446.2,370L446.2,353.8"/>
<polygon class="a" fill="#FFFFFF" points="448.1,373.8 456.2,373.8 456.9,380 448.1,380"/>
<polyline class="l" points="360,417.5 367.5,418.8 376.2,412.5 386.9,406.2 392.5,400.6 401.2,398.8 410,400 417.5,401.9 425,398.8 430,403.8 436.2,407.5 445,403.8 450,401.2 455,406.2 457.5,403.8 452.5,400 455,395 460,392.5"/>
<polyline class="l" points="396.2,355 427.5,353.8"/>
<polyline class="l" points="403.8,355 403.8,362.5 401.2,365 402.5,370 398.8,372.5 400,380 402.5,382.5 401.2,388.8 400,397.5"/>
<polyline class="l" points="410,355 412.5,358.8 418.8,360 420,355"/>
<polyline class="l" points="418.8,360 418.8,365 403.8,362.5"/>
<polyline class="l" points="430,353.8 431.2,361.2 428.1,367.5 425,377.5 423.1,381.2"/>
<polyline class="l" points="435,352.5 435,368.8 445,370"/>
<polyline class="l" points="435,361.2 446.2,361.2"/>
<polyline class="l" points="410,372.5 415,371.2 417.5,377.5 415,382.5 411.2,381.2 410,376.2 410,372.5"/>
<polyline class="l" points="402.5,382.5 418.8,381.9 423.1,381.2 437.5,381.2 447.5,386.2"/>
<polyline class="l" points="418.8,381.9 418.8,388.8 413.8,390 413.8,400"/>
<polyline class="l" points="423.1,381.2 423.8,388.8 430,393.8 437.5,390 437.5,381.2"/>
<polyline class="l" points="401.2,388.8 413.8,390"/>
<polyline class="l" points="408.8,390 408.8,395 412.5,395"/>
<polyline class="l" points="376.9,375 378.8,382.5 385,388.8 391.2,390 397.5,387.5 398.8,380"/>
<polyline class="l" points="386.9,369.4 396.2,368.1 398.8,372.5"/>
<polyline class="l" points="370,370 372.5,377.5 376.9,382.5 378.8,382.5"/>
<polyline class="l" points="391.2,390 400,397.5"/>
<polyline class="l" points="442.5,381.2 442.5,387.5 447.5,392.5 450,401.2"/>
<polyline class="l" points="430,393.8 430,403.8"/>
<polyline class="l" points="437.5,390 442.5,395 445,403.8"/>
<polyline class="l" points="360,400 367.5,396.9"/>
<polyline class="l" points="360,405 372.5,402.5 373.8,403.8"/>
<polyline class="l" points="363.8,415 372.5,410 377.5,411.2"/>
<polyline class="l" points="360,410 363.8,415 362.5,420"/>
<polygon fill="#000" points="384.4,400 388.1,400 388.8,403.1 385,403.8"/>
<polygon fill="#000" points="418.8,398.8 423.8,398.1 423.1,401.2 420,401.2"/>
<polygon fill="#000" points="430,401.2 435,403.8 442.5,405 447.5,401.2 446.2,403.8 440,407.5 432.5,406.2"/>
<polygon fill="#000" points="450,393.8 455,391.2 457.5,395 453.8,397.5 451.2,396.2"/>
<polyline class="l" points="460,388.8 467.5,387.5 476.2,386.2 487.5,382.5 492.5,385 497.5,388.8 500,393.1 507.5,392.5 510,388.8 515,386.9 520,390 525,395 530,398.8 533.8,403.8 533.1,412.5 535,420"/>
<polyline class="l" points="555,345 550,352.5 546.2,360 545,370 547.5,382.5 552.5,395 557.5,405 560,410"/>
<polygon fill="#1E90FF" points="460,345 473.8,345 472.5,350 477.5,353.8 480,363.8 482.5,376.2 475,378.1 467.5,375 462.5,376.2 460,375"/>
<path class="l" d="M473.8,345L472.5,350L477.5,353.8L480,363.8L482.5,376.2L475,378.1L467.5,375L462.5,376.2L460,375"/>
<polygon fill="#1E90FF" points="482.5,345 497.5,345 497.5,351.2 490,352.5 483.8,351.2"/>
<path class="l" d="M497.5,345L497.5,351.2L490,352.5L483.8,351.2L482.5,345"/>
<polygon fill="#00BFFF" points="473.8,345 482.5,345 483.8,351.2 480,353.8 477.5,353.8 472.5,350"/>
<path class="l" d="M482.5,345L483.8,351.2L480,353.8L477.5,353.8L472.5,350L473.8,345"/>
<polygon class="a" fill="#00BFFF" points="480,354.4 490,352.5 490,362.5 480,363.8"/>
<polygon class="a" fill="#AFEEEE" points="490,356.2 493.8,355 497.5,358.8 500,362.5 497.5,370 488.8,373.8 482.5,376.2 480,365 490,362.5"/>
<polygon class="a" fill="#00BFFF" points="497.5,348.8 502.5,350 503.1,356.2 497.5,358.8 496.2,356.2 498.8,353.8"/>
<polygon fill="#1E90FF" points="502.5,345 510,345 507.5,350 503.1,350"/>
<path class="l" d="M510,345L507.5,350L503.1,350L502.5,345"/>
<polygon class="a" fill="#0000EE" points="501.2,358.8 503.8,356.2 507.5,356.9 506.2,350 510,347.5 515,355 518.8,357.5 522.5,356.2 520,350 518.8,345 525,347.5 527.5,352.5 525,357.5 521.2,360.6 515,361.2 510,360.6 503.8,361.9"/>
<polygon class="a" fill="#AFEEEE" points="491.2,377.5 501.2,376.2 505,382.5 508.8,390 502.5,391.2 497.5,388.8 496.2,383.8 492.5,381.2"/>
<polygon class="a" fill="#AFEEEE" points="517.5,382.5 522.5,378.8 531.2,378.1 535,382.5 537.5,385 535,388.8 529.4,390 530,392.5 535,393.1 533.8,398.8 530,398.8 525,395 520,390"/>
<polygon class="a" fill="#00BFFF" points="537.5,375 542.5,374.4 546.2,380 547.5,387.5 546.2,388.8 540,387.5 537.5,385 535,382.5 535,378.8"/>
<polygon class="a" fill="#AFEEEE" points="540,387.5 546.2,388.8 545,393.8 540,392.5"/>
<polygon class="a" fill="#00BFFF" points="542.5,400 547.5,397.5 552.5,401.2 556.2,407.5 557.5,415 552.5,416.2 547.5,416.9 543.8,412.5 542.5,406.2"/>
<polyline class="l" points="543.8,407.5 550,408.8 555,415"/>
<polygon class="a" fill="#0000EE" points="533.8,405 537.5,403.8 541.2,407.5 543.8,412.5 542.5,417.5 537.5,418.8 535,420 533.1,412.5"/>
<polygon fill="#00BFFF" points="460,376.2 462.5,376.2 461.2,381.2 460,381.2"/>
<path class="l" d="M460,376.2L462.5,376.2L461.2,381.2L460,381.2"/>
<polyline class="l" points="460,377.5 467.5,375 475,378.1 482.5,376.2 491.2,377.5"/>
<polyline class="l" points="467.5,375 468.8,387.5"/>
<polyline class="l" points="472.5,378.1 473.8,386.9"/>
<polyline class="l" points="481.2,377.5 481.9,385"/>
<polyline class="l" points="491.2,377.5 491.9,385"/>
<polyline class="l" points="488.8,373.8 491.2,377.5"/>
<polyline class="l" points="500,362.5 501.2,376.2"/>
<polyline class="l" points="503.8,361.9 502.5,370 507.5,371.9 508.8,368.8 516.2,368.1 516.2,363.8 510,360.6"/>
<polyline class="l" points="501.2,376.2 517.5,378.1 518.8,372.5 525,371.2 527.5,376.2 531.2,378.1"/>
<polyline class="l" points="517.5,378.1 517.5,382.5"/>
<polyline class="l" points="525,357.5 535,358.8 540,356.2 546.2,357.5"/>
<polyline class="l" points="535,358.8 537.5,365 535,368.8 541.2,370 545,370"/>
<polyline class="l" points="537.5,365 545,363.8"/>
<polyline class="l" points="527.5,352.5 540,356.2"/>
<polyline class="l" points="540,345 537.5,352.5 540,356.2"/>
<polyline class="l" points="546.2,345 545,351.2 550,352.5"/>
<polyline class="l" points="540,350 545,351.2"/>
<polyline class="l" points="525,371.2 527.5,361.2"/>
<polyline class="l" points="535,388.8 540,392.5 545,393.8 552.5,395"/>
<polyline class="l" points="533.8,398.8 540,398.8 542.5,400"/>
<polyline class="l" points="540,392.5 540,398.8"/>
<polyline class="l" points="547.5,382.5 542.5,374.4"/>
<polyline class="l" points="552.5,401.2 557.5,405"/>
<polyline class="l" points="547.5,416.9 550,420"/>
<polyline class="l" points="557.5,415 560,417.5"/>
<polygon fill="#000" points="500,391.9 506.9,391.2 506.2,393.8 500.6,394"/>
<polygon fill="#000" points="534.4,415 538.1,414.4 538.1,418.8 535,419"/>
<polyline class="l" points="533.8,417.5 537.5,423.8 541.2,430 545,435 550,440 555,442.5 558.8,447.5 561.2,450 565,450"/>
<polyline class="l" points="568.1,422.5 570,431.2 570,442.5 568.8,448.8 565,451.2 561.2,450"/>
<polyline class="l" points="560,412.5 565,415 568.1,422.5"/>
<polygon class="a" fill="#AFEEEE" points="558.8,425 568.8,423.8 570,431.2 570,442.5 568.8,447.5 563.8,448.8 561.2,440 560,432.5"/>
<polyline class="l" points="537.5,417.5 543.8,416.9 555,416.2 565,415"/>
<polyline class="l" points="543.8,416.9 543.8,423.8 555,423.1 555,416.2"/>
<polyline class="l" points="550,416.9 550,423.8"/>
<polyline class="l" points="545,423.8 545,430 552.5,431.2 555,423.1"/>
<polyline class="l" points="552.5,431.2 550,436.2 555,437.5 560,433.8"/>
<polyline class="l" points="555,437.5 556.2,442.5"/>
<polyline class="l" points="560,416.2 558.8,425"/>
<polyline class="l" points="550,440 560,441.2"/>
<polygon fill="#000" points="562.5,448.1 568.8,446.9 568.1,450.6 563.8,452.5"/>
<polygon fill="#000" points="560,455 565,452.5 565.6,453.8 561.2,456.2"/>
<polygon fill="#000" points="547.5,458.8 552.5,456.9 557.5,455.6 558.8,456.9 553.8,458.8 548.8,460.6"/>
<polygon fill="#000" points="536.9,459.8 539.4,459.8 539.4,460.8 536.9,460.8"/>
<polygon fill="#000" points="541.9,428.1 543.8,428.1 545.6,433.8 543.8,433.8"/>
<polyline class="l" points="76.2,215 78.8,222.5 78.1,230 80,236.2 82.5,242.5 85,247.5 87.5,252.5 86.2,257.5 88.8,265 88.8,272.5 92.5,280 95,285 97.5,290"/>
<polyline class="l" points="130,215 128.8,227.5 126.2,236.2 118.8,243.8 135,266.9"/>
<polygon fill="#1E90FF" points="76.2,215 83.8,215 82.5,220 88.8,222.5 90,231.2 88.8,237.5 92.5,240 88.8,241.2 82.5,237.5 80,236.2 78.1,230 78.8,222.5"/>
<path class="l" d="M83.8,215L82.5,220L88.8,222.5L90,231.2L88.8,237.5L92.5,240L88.8,241.2L82.5,237.5L80,236.2L78.1,230L78.8,222.5L76.2,215"/>
<polygon fill="#0000EE" points="83.8,215 122.5,215 121.2,225 118.8,237.5 111.2,237.5 105,240 100,241.2 95,238.8 92.5,240 88.8,237.5 90,231.2 88.8,222.5 82.5,220"/>
<path class="l" d="M122.5,215L121.2,225L118.8,237.5L111.2,237.5L105,240L100,241.2L95,238.8L92.5,240L88.8,237.5L90,231.2L88.8,222.5L82.5,220L83.8,215"/>
<polygon fill="#FFFFFF" points="91.9,215 108.8,215 107.5,218.1 92.5,218.1"/>
<path class="l" d="M108.8,215L107.5,218.1L92.5,218.1L91.9,215"/>
<polygon class="a" fill="#FFFFFF" points="98.8,226.2 102.5,225 106.2,223.8 106.9,228.8 105,233.8 102.5,236.2 101.2,241.2 98.1,239.4 98.8,233.8"/>
<polygon fill="#1E90FF" points="122.5,215 130,215 128.8,227.5 126.2,236.2 118.8,240 118.8,237.5 121.2,225"/>
<path class="l" d="M130,215L128.8,227.5L126.2,236.2L118.8,240L118.8,237.5L121.2,225L122.5,215"/>
<polygon class="a" fill="#1E90FF" points="92.5,240 95,238.8 100,241.2 105,240 111.2,237.5 117.5,238.1 118.1,243.8 113.8,246.2 105,247.5 100,248.8 96.9,245.6 93.1,245"/>
<polygon class="a" fill="#1E90FF" points="82.5,237.5 88.8,241.2 88.8,245 86.2,246.2 83.8,243.8"/>
<polygon class="a" fill="#FFFFFF" points="89.4,240.6 92.5,240.6 93.1,245.6 90,246"/>
<polygon class="a" fill="#FFFFFF" points="92.5,245.6 96.9,245 97.5,249.4 93.1,250"/>
<polygon class="a" fill="#0000EE" points="83.8,245 88.8,246.2 93.1,250 100,248.8 105,247.5 107.5,260 100,262.5 98.8,267.5 102.5,275 101.2,277.5 97.5,275 95,270 90,262.5 87.5,257.5 86.2,252.5"/>
<polyline class="l" points="96.9,256.2 105,253.8"/>
<polyline class="l" points="93.8,252.5 96.9,256.2 98.1,262.5"/>
<polygon class="a" fill="#FFFFFF" points="100,263.1 108.8,260.6 110,266.2 101.2,269.4"/>
<polygon class="a" fill="#FFFFFF" points="106.2,267.5 120,261.2 122.5,264.4 110,270.6"/>
<polygon class="a" fill="#1E90FF" points="101.2,270 110,271.2 122.5,265 125,267.5 127.5,275 125,276.2 115,276.9 112.5,278.8 107.5,282.5 105,283.1 102.5,277.5"/>
<polygon class="a" fill="#00BFFF" points="106.2,282.5 110,278.8 113.8,279.4 113.1,285 111.2,286.9 105.6,285"/>
<polygon fill="#0000EE" points="113.8,277.5 125,276.2 128.1,277.5 129.4,290 112.5,290 113.1,285"/>
<path class="l" d="M113.8,277.5L125,276.2L128.1,277.5L129.4,290M112.5,290L113.1,285L113.8,277.5"/>
<polygon fill="#0000EE" points="105,285.6 111.2,287.2 113.1,290 106.2,290"/>
<path class="l" d="M105,285.6L111.2,287.2L113.1,290M106.2,290L105,285.6"/>
<polyline class="l" points="88.8,265 92.5,267.5 95,270"/>
<polyline class="l" points="93.8,283.1 105,285"/>
<polyline class="l" points="88.8,272.5 95,270"/>
<polygon fill="#1E90FF" points="155,281.9 170,283.1 170,290 153.1,290"/>
<path class="l" d="M155,281.9L170,283.1M153.1,290L155,281.9"/>
<polygon fill="#000" points="87.5,246.9 90,246.2 90.6,251.2 88.8,252.5"/>
<polyline class="l" points="90,280 93.8,285 97.5,292.5 96.9,300.6 105,305 110,307.5 115,311.9 118.8,315 122.5,318.8 126.2,323.1 128.1,325 128.8,332.5 130,336.9 141.9,338.1 155,341.2 157.5,343.8 172.5,351.9 177.5,355"/>
<polygon fill="#0000EE" points="112.5,280 127.5,280 130,282.5 129.4,291.2 132.5,292.5 130,304.4 116.2,302.5 111.2,300.6 108.8,295 105,287.5 113.8,286.2"/>
<path class="l" d="M127.5,280L130,282.5L129.4,291.2L132.5,292.5L130,304.4L116.2,302.5L111.2,300.6L108.8,295L105,287.5L113.8,286.2L112.5,280"/>
<polygon class="a" fill="#00BFFF" points="105,282.5 110,283.1 113.8,280 113.1,286.2 108.8,286.2"/>
<polygon fill="#1E90FF" points="102.5,280 108.8,280 107.5,282.5 103.8,281.9"/>
<path class="l" d="M108.8,280L107.5,282.5L103.8,281.9L102.5,280"/>
<polygon class="a" fill="#0000EE" points="110.6,301.2 116.2,302.5 116.9,310.6 113.8,311.2 110,307.5"/>
<polygon class="a" fill="#1E90FF" points="116.9,303.1 130,304.4 128.8,311.2 126.9,316.2 130,321.2 126.2,323.1 122.5,318.8 118.8,315 116.9,310.6"/>
<polygon class="a" fill="#1E90FF" points="133.1,291.9 152.5,295 157.5,302.5 165,312.5 166.9,320 162.5,322.5 161.2,330 143.8,326.9 130,321.9 126.9,316.2 129.4,310 130,304.4"/>
<polygon class="a" fill="#1E90FF" points="163.8,321.9 176.2,321.9 175,332.5 166.2,332.5 162.5,335 160,335.6 160,330 161.2,330 162.5,322.5"/>
<polygon class="a" fill="#1E90FF" points="154.4,281.9 165,283.1 173.8,285 173.1,292.5 170,293.1 165,293.8 164.4,306.9 157.5,297.5 153.1,294.4"/>
<polygon class="a" fill="#00BFFF" points="128.1,325 131.2,325.6 143.8,326.9 141.9,337.5 130,336.9 128.8,332.5"/>
<polyline class="l" points="143.8,327.5 160,330 159.4,335.6 157.5,340 155,342.5 141.9,337.5"/>
<polygon fill="#1E90FF" points="176.2,325.6 190,328.1 190,348.1 173.1,345 175,332.5"/>
<path class="l" d="M176.2,325.6L190,328.1M190,348.1L173.1,345L175,332.5L176.2,325.6"/>
<polyline class="l" points="135,266.9 143.8,280 152.5,294.4"/>
<polyline class="l" points="175,280 176.2,282.5 190,283.8"/>
<polyline class="l" points="180,296.2 177.5,311.2 176.2,321.9"/>
<polyline class="l" points="180,296.2 190,292.5"/>
<polyline class="l" points="180,305 190,310"/>
<polyline class="l" points="173.1,345 172.5,351.9"/>
<polygon fill="#000" points="96.2,308.8 102.5,309.4 107.5,311.2 106.9,312.5 97.5,310.6"/>
<polygon fill="#000" points="103.8,321.2 105.6,321.2 105.6,323.1 103.8,323.1"/>
<polygon fill="#000" points="115.6,321.2 118.8,322.5 118.1,325 116.2,323.8"/>
<polygon fill="#000" points="114.4,327.5 116.2,328.1 116.9,330.6 114.4,330"/>
<polyline class="l" points="93.8,285 105,287.5"/>
<polyline class="l" points="97.5,292.5 108.8,295"/>
<polyline class="l" points="96.9,300.6 102.5,296.2 108.8,298.8 111.2,300.6"/>
<polygon class="a" fill="#00BFFF" points="183.8,228.8 200,227.5 203.8,232.5 210,235 207.5,242.5 200,245 183.8,242.5"/>
<polygon class="a" fill="#1E90FF" points="190,326.2 196.2,327.5 198.8,335 205,343.8 206.2,350 190,348"/>
<polygon class="a" fill="#1E90FF" points="210,288.8 228.8,290 226.2,321.2 223.8,352.5 207.5,351.2 206.2,343.8 198.8,335 196.2,323.8 207.5,322.5"/>
<polygon class="a" fill="#1E90FF" points="195,361.2 202.5,360 203.8,365 196.2,365.5"/>
<polygon fill="#AFEEEE" points="250,363.8 260,363.8 260,375 255,375"/>
<path class="l" d="M250,363.8L260,363.8M255,375L250,363.8"/>
<polyline class="l" points="180,247.5 177.5,265 175,283.8"/>
<polyline class="l" points="175,283.8 190,285 230,290.5"/>
<polyline class="l" points="235,236.2 232.5,262.5 230,290.5"/>
<polyline class="l" points="230,290.5 226.2,325 220,368.8"/>
<polyline class="l" points="177.5,355 193.8,363.8 203,367 220,369.5 229.5,370.5 230.5,365 248.8,365"/>
<polyline class="l" points="230,290.5 260,293"/>
<polyline class="l" points="235,236.2 260,237.5"/>
<polyline class="l" points="180,247.5 200,250 201.2,253.8 210,250 212.5,246.2"/>
<polyline class="l" points="207.5,242.5 210,250 208.8,266.2 222.5,270 220,277.5 210,283.8 203.8,286.2"/>
<polyline class="l" points="176.2,276.2 185,275 190,285"/>
<polyline class="l" points="190,285 180,297.5 177.5,307.5 190,312.5 196.2,323.8"/>
<polyline class="l" points="190,312.5 197.5,320"/>
<polyline class="l" points="230,305 245,303.8 246.2,292.5"/>
<polyline class="l" points="245,303.8 243.8,325 260,323.8"/>
<polyline class="l" points="243.8,325 240,335 235,336.2 233.8,342.5 223.8,342.5"/>
<polyline class="l" points="240,335 241.2,352.5 250,351.2 250,363.8"/>
<polyline class="l" points="232.5,262.5 250,257.5 260,262.5"/>
<polyline class="l" points="253.8,273.8 260,272.5 260,287.5 252.5,287.5 253.8,273.8"/>
<polyline class="l" points="207.5,351.2 206.2,365"/>
<polyline class="l" points="210,317.5 219,318.5 219.5,316 222.5,315.5 223,307.5"/>
<polyline class="l" points="230,365 231,354.5 239.5,352 239,364"/>
<polyline class="l" points="185.5,324 185,330"/>
<polyline class="l" points="217,218.8 215,231.2 235,235"/>
<polyline class="l" points="186.2,213.8 183.8,230"/>
<polyline class="l" points="210,232.5 212.5,245 215,247.5 208.8,248.8 207.5,265 222.5,268.8 221.2,273.8 207.5,286.2"/>
<polygon fill="#00BFFF" points="310.6,225 330,225 330,227.5 335,228.1 335.6,231.9 340,232.5 340,255.6 325,256.2 308.8,255 309.4,241.2"/>
<path class="l" d="M330,225L330,227.5L335,228.1L335.6,231.9L340,232.5M340,255.6L325,256.2L308.8,255L309.4,241.2L310.6,225"/>
<polygon fill="#0000EE" points="308.8,255 325,256.2 340,255.6 340,297.5 327.5,297.5 306.9,296.9 307.5,275"/>
<path class="l" d="M308.8,255L325,256.2L340,255.6M340,297.5L327.5,297.5L306.9,296.9L307.5,275L308.8,255"/>
<polygon class="a" fill="#00BFFF" points="270,254.4 276.2,255 286.2,253.8 290.6,254.4 290.6,262.5 290,269.4 286.9,268.8 286.2,265.6 273.1,265 272.5,270 266.9,270 265.6,266.9 263.8,265 264.4,261.9 267.5,260 268.1,256.2"/>
<polyline class="l" points="240,235 265,237.5 290,240 308.8,241.2"/>
<polyline class="l" points="310.6,225 309.4,241.2 308.8,255 307.5,275 306.9,296.9"/>
<polyline class="l" points="240,291.2 265,294.4 285,295.6 306.9,296.9"/>
<polyline class="l" points="248.8,225 247.5,235"/>
<polyline class="l" points="276.2,230.6 288.1,231.2 288.8,225"/>
<polyline class="l" points="276.2,230.6 275.6,238.1"/>
<polyline class="l" points="288.1,231.2 288.8,239.4"/>
<polyline class="l" points="263.8,237.5 266.9,240 270,250 270,254.4"/>
<polyline class="l" points="266.9,240 277.5,239.4 277.5,248.8 270.6,250"/>
<polyline class="l" points="277.5,240 293.8,241.2 292.5,247.5 286.9,247.5 286.2,253.8"/>
<polyline class="l" points="240,258.8 250,260 251.2,262.5 256.2,265 263.8,265"/>
<polyline class="l" points="240,265 243.8,263.8 250,260"/>
<polyline class="l" points="252.5,273.8 262.5,273.1 267.5,276.2 275,277.5 276.2,274.4 285,274.4 283.8,285 281.2,283.8 275,281.2 275,277.5"/>
<polyline class="l" points="252.5,273.8 251.2,280 252.5,286.2 256.2,287.5 257.5,292.5"/>
<polyline class="l" points="273.1,265 273.1,270 277.5,272.5 285,274.4"/>
<polyline class="l" points="240,291.2 246.2,292.5 245,300"/>
<polyline class="l" points="284.4,295.6 285,300"/>
<polyline class="l" points="295,296.2 295.6,300"/>
<polygon fill="#0000EE" points="307.5,270 360,270 360,282.5 355,282.5 353.8,288.1 346.2,288.8 346.2,293.1 352.5,293.8 352.5,298.1 327.5,297.8 306.9,296.5 306.9,282.5"/>
<path class="l" d="M360,282.5L355,282.5L353.8,288.1L346.2,288.8L346.2,293.1L352.5,293.8L352.5,298.1L327.5,297.8L306.9,296.5L306.9,282.5L307.5,270"/>
<polygon fill="#1E90FF" points="295.6,303.8 303.8,303.1 305,304.4 327.5,305 328.1,313.8 328.1,332.5 335,335 338.8,338.1 340,345 293.1,345 293.1,331.2 293.8,320 294.4,315"/>
<path class="l" d="M295.6,303.8L303.8,303.1L305,304.4L327.5,305L328.1,313.8L328.1,332.5L335,335L338.8,338.1L340,345M293.1,345L293.1,331.2L293.8,320L294.4,315L295.6,303.8"/>
<polygon class="a" fill="#FFFFFF" points="294.4,315.6 303.8,316.9 315.6,316.9 315.6,329.4 303.8,328.1 303.1,322.5 294.4,321.2"/>
<polygon fill="#AFEEEE" points="303.1,341.2 315.6,341.2 315.6,345 303.1,345"/>
<path class="l" d="M303.1,341.2L315.6,341.2L315.6,345M303.1,345L303.1,341.2"/>
<polygon fill="#AFEEEE" points="346.9,317.5 353.8,316.2 355,311.2 358.8,311.2 360,313.1 360,328.8 353.8,330 350,331.2 349.4,322.5"/>
<path class="l" d="M346.9,317.5L353.8,316.2L355,311.2L358.8,311.2L360,313.1M360,328.8L353.8,330L350,331.2L349.4,322.5L346.9,317.5"/>
<polygon fill="#00BFFF" points="351.9,343.1 355,341.2 360,342.5 360,345 351.2,345"/>
<path class="l" d="M351.9,343.1L355,341.2L360,342.5M351.2,345L351.9,343.1"/>
<polyline class="l" points="349.4,305 356.2,305 356.2,310 349.4,310 349.4,305"/>
<polyline class="l" points="260,293.1 285,295.6 295.6,296.5 306.9,296.5"/>
<polyline class="l" points="352.5,298.1 360,298.1"/>
<polyline class="l" points="295.6,296.5 295.6,303.8"/>
<polyline class="l" points="285,295.6 283.8,306.2 280,306.9 280.6,311.9 285,312.5 287.5,318.1 282.5,320.6 268.8,320 267.5,331.9 260,331.9"/>
<polyline class="l" points="260,307.5 264.4,307.5 263.8,320.6 268.8,320"/>
<polyline class="l" points="260,272.5 265,273.8 265.6,275.6 275,277.5 276.2,272.5 285.6,273.8 285,270"/>
<polyline class="l" points="275,277.5 274.4,281.9 282.5,285 285.6,282.5 285.6,273.8"/>
<polyline class="l" points="328.1,313.8 335,313.1 346.2,315 346.9,317.5"/>
<polyline class="l" points="340.6,328.8 343.8,330 343.1,337.5 348.8,338.8 349.4,331.2 350,331.2"/>
<polyline class="l" points="340,338.1 348.8,338.8 352.5,342.5"/>
<polyline class="l" points="353.8,330 355,341.2"/>
<polygon fill="#1E90FF" points="291.2,345 338.8,345 338.1,355 336.2,361.2 331.2,360 331.2,355 325,355 325,366.2 311.9,367.5 311.2,375 314.4,380 314.4,391.2 305,391.9 305,396.2 297.5,396.9 292.5,398.8 290,405 286.2,407.5 278.8,402.5 272.5,398.8 270,392.5 268.8,386.2 267.5,378.8 268.8,365 290,365.6 290.6,355"/>
<path class="l" d="M338.8,345L338.1,355L336.2,361.2L331.2,360L331.2,355L325,355L325,366.2L311.9,367.5L311.2,375L314.4,380L314.4,391.2L305,391.9L305,396.2L297.5,396.9L292.5,398.8L290,405L286.2,407.5L278.8,402.5L272.5,398.8L270,392.5L268.8,386.2L267.5,378.8L268.8,365L290,365.6L290.6,355L291.2,345"/>
<polygon class="a" fill="#FFFFFF" points="293.8,365.6 299.4,365.6 299.4,360 303.1,359.8 306.2,360 306.2,363.8 305,370.6 300,370.6 293.8,370.6"/>
<polygon fill="#AFEEEE" points="303.8,345 315,345 314.4,347.5 308.8,348.1 308.1,352.5 303.1,352.5"/>
<path class="l" d="M315,345L314.4,347.5L308.8,348.1L308.1,352.5L303.1,352.5L303.8,345"/>
<polygon fill="#AFEEEE" points="260,363.8 268.1,365 267.5,378.8 265,381.2 260,376.2"/>
<path class="l" d="M260,363.8L268.1,365L267.5,378.8L265,381.2L260,376.2"/>
<polyline class="l" points="311.2,373.1 316.2,371.2 324.4,372.5 324.4,379.4 311.2,380 311.2,373.1"/>
<polygon class="a" fill="#00BFFF" points="338.8,350 347.5,348.8 350,347.5 348.8,357.5 350,365 346.2,370 342.5,371.9 340,368.8 336.2,361.2 338.1,355"/>
<polygon fill="#1E90FF" points="350,347.5 360,348.8 360,362.5 352.5,363.8 350,365 348.8,357.5"/>
<path class="l" d="M350,347.5L360,348.8M360,362.5L352.5,363.8L350,365L348.8,357.5L350,347.5"/>
<polygon fill="#00BFFF" points="351.2,345 360,345 360,348.1 351.2,347.5"/>
<path class="l" d="M360,348.1L351.2,347.5L351.2,345"/>
<polygon fill="#AFEEEE" points="343.1,378.8 352.5,373.1 356.2,373.8 360,371.2 360,382.5 356.2,385 350,383.8 345,381.9"/>
<path class="l" d="M343.1,378.8L352.5,373.1L356.2,373.8L360,371.2M360,382.5L356.2,385L350,383.8L345,381.9L343.1,378.8"/>
<polygon fill="#00BFFF" points="350,383.8 356.2,385 360,386.2 360,395 355,400 352.5,401.2 347.5,397.5 345,395 347.5,391.2"/>
<path class="l" d="M350,383.8L356.2,385L360,386.2M360,395L355,400L352.5,401.2L347.5,397.5L345,395L347.5,391.2L350,383.8"/>
<polygon class="a" fill="#00BFFF" points="330,398.8 338.8,397.5 340,394.4 345,395 347.5,397.5 352.5,401.2 350,406.2 346.2,412.5 340,417.5 339.4,408.8 332.5,408.8 331.9,402.5"/>
<polyline class="l" points="331.9,408.8 339.4,408.8 339.4,415.6 331.9,415.6 331.9,408.8"/>
<polyline class="l" points="260,376.2 265,381.2 267.5,378.8 268.8,386.2 270,392.5 272.5,398.8 278.8,402.5 286.2,407.5 290,405 292.5,398.8 297.5,396.9 305,396.2 310,398.8 313.8,403.8 317.5,411.2 320,417.5 321.2,420"/>
<polyline class="l" points="260,363.8 268.8,365 290,365.6"/>
<polyline class="l" points="305,391.9 328.1,391.9 328.8,398.8 330,398.8"/>
<polyline class="l" points="339.4,415.6 340,420"/>
<polyline class="l" points="352.5,401.2 355,407.5 360,403.8"/>
<polyline class="l" points="352.5,415 357.5,411.2 360,412.5"/>
<polyline class="l" points="325,366.2 336.2,361.2"/>
<polyline class="l" points="352.5,373.1 356.2,378.8 360,377.5"/>
<polyline class="l" points="321.2,418.8 323.8,422.5 330,430 330,433.8 331.9,438.8 334.4,442.5 335,446.2 342.5,449.4 347.5,451.2 352.5,451.9 355,453.8 358.1,453.1"/>
<polyline class="l" points="380,412.5 372.5,416.2 365,422.5 360,427.5 357.5,431.2 356.9,437.5 357.5,446.2 358.8,450 358.1,453.1"/>
<polygon class="a" fill="#AFEEEE" points="341.9,447.5 344.4,441.9 348.1,441.9 348.8,446.2 351.9,447.5 355.6,448.1 356.2,452.5 352.5,451.9 347.5,451.2 342.5,449.4"/>
<polyline class="l" points="339.4,415 338.8,422.5 331.2,421.9 323.8,421.9"/>
<polyline class="l" points="338.8,422.5 338.1,434.4 330.6,434.4"/>
<polyline class="l" points="353.8,412.5 357.5,411.2 363.8,412.5 365,415.6 358.8,416.9 355,419.4 351.2,415.6 353.8,412.5"/>
<polyline class="l" points="350,422.5 355,421.2 358.8,425 356.2,429.4 351.2,430 349.4,426.2 350,422.5"/>
<polygon fill="#000" points="360,418.8 365,417.5 367.5,420 362.5,425 360,427.5 358.8,423.8"/>
<polygon fill="#000" points="352.5,433.1 356.2,432.5 356.2,435 353.1,435"/>
<polygon fill="#FFFFFF" points="320,225 420,225 420,300 320,300"/>
<polygon fill="#00BFFF" points="320,225 330,225 335,227.5 335,231.9 343.8,231.9 343.8,237.5 344.4,245 353.8,247.5 357.5,243.8 362.5,248.8 367.5,248.8 371.2,245.6 374.4,250 378.8,255.6 323.8,255.6 320,255"/>
<path class="l" d="M330,225L335,227.5L335,231.9L343.8,231.9L343.8,237.5L344.4,245L353.8,247.5L357.5,243.8L362.5,248.8L367.5,248.8L371.2,245.6L374.4,250L378.8,255.6L323.8,255.6L320,255"/>
<polygon class="a" fill="#1E90FF" points="363.1,236.9 370,232.5 373.8,240 373.8,243.8 371.2,245.6 367.5,243.8 363.1,242.5"/>
<polygon class="a" fill="#1E90FF" points="372.5,232.5 376.2,231.9 381.2,236.2 381.2,238.8 377.5,243.8 375,243.8 373.8,240"/>
<polyline class="l" points="368.1,225 370,230 373.8,240 375,248.8 378.8,255.6 382.5,262.5 387.5,268.8"/>
<polygon class="a" fill="#00BFFF" points="386.2,231.2 398.8,230.6 400,238.8 393.8,238.8 391.2,235 386.2,235"/>
<polygon fill="#0000EE" points="400,225 420,225 420,248.8 407.5,248.1 402.5,248.1 401.2,240 400,233.8 401.2,227.5"/>
<path class="l" d="M420,248.8L407.5,248.1L402.5,248.1L401.2,240L400,233.8L401.2,227.5L400,225"/>
<polygon fill="#FFFFFF" points="415.6,231.2 420,230.6 420,238.8 415.6,238.8"/>
<path class="l" d="M415.6,231.2L420,230.6M420,238.8L415.6,238.8L415.6,231.2"/>
<polygon fill="#1E90FF" points="375,248.8 402.5,248.1 407.5,248.1 417.5,248.1 420,250 420,268.8 410,266.2 402.5,265 397.5,266.9 395,260 391.2,257.5 387.5,255 382.5,255 378.8,255.6"/>
<path class="l" d="M375,248.8L402.5,248.1L407.5,248.1L417.5,248.1L420,250M420,268.8L410,266.2L402.5,265L397.5,266.9L395,260L391.2,257.5L387.5,255L382.5,255L378.8,255.6L375,248.8"/>
<polygon fill="#1E90FF" points="392.5,272.5 397.5,266.9 402.5,265 410,266.2 420,268.8 420,300 407.5,300 406.2,286.2 400,286.2 395,283.8"/>
<path class="l" d="M392.5,272.5L397.5,266.9L402.5,265L410,266.2L420,268.8M407.5,300L406.2,286.2L400,286.2L395,283.8L392.5,272.5"/>
<polygon fill="#0000EE" points="320,255.6 378.8,255.6 382.5,262.5 387.5,268.8 387.5,285 393.8,287.5 398.8,290 398.8,300 388.1,300 387.5,297.5 320,297.5"/>
<path class="l" d="M320,255.6L378.8,255.6L382.5,262.5L387.5,268.8L387.5,285L393.8,287.5L398.8,290L398.8,300M388.1,300L387.5,297.5L320,297.5"/>
<polygon class="a" fill="#0000EE" points="382.5,262.5 391.2,258.8 395,260 397.5,266.9 392.5,272.5 395,283.8 387.5,285 387.5,268.8"/>
<polygon class="a" fill="#FFFFFF" points="363.1,263.8 371.2,263.1 372.5,261.9 377.5,262.5 381.2,266.2 381.2,273.8 377.5,274.4 376.9,277.5 372.5,277.5 372.5,273.8 368.1,273.1 367.5,268.8 363.1,268.1"/>
<polygon class="a" fill="#FFFFFF" points="346.2,288.1 353.8,287.5 354.4,283.1 365.6,283.1 366.2,291.2 360,291.9 359.4,297.5 353.1,297.5 352.5,293.1 346.2,293.1"/>
<polygon class="a" fill="#FFFFFF" points="382.5,255 387.5,255 391.2,257.5 390,260 385,262.5 383.1,260.6 380,260.6 380,258.1 383.1,258.1"/>
<polygon fill="#FFFFFF" points="388.1,285 393.8,287.5 398.8,290 398.8,300 388.1,300"/>
<path class="l" d="M388.1,285L393.8,287.5L398.8,290L398.8,300M388.1,300L388.1,285"/>
<polygon fill="#AFEEEE" points="388.1,294.4 392.5,294.4 392.5,300 388.1,300"/>
<path class="l" d="M388.1,294.4L392.5,294.4L392.5,300M388.1,300L388.1,294.4"/>
<polygon fill="#AFEEEE" points="407.5,274.4 412.5,274.4 415,268.8 420,268.8 420,278.8 412.5,278.8"/>
<path class="l" d="M407.5,274.4L412.5,274.4L415,268.8L420,268.8M420,278.8L412.5,278.8L407.5,274.4"/>
<polygon fill="#AFEEEE" points="407.5,293.8 415,290 420,290 420,300 407.5,300"/>
<path class="l" d="M407.5,293.8L415,290L420,290M407.5,300L407.5,293.8"/>
<polygon class="a" fill="#FFFFFF" points="410,267.5 413.8,266.9 413.8,273.8 410.6,273.1"/>
<polygon fill="#00BFFF" points="365,298.8 372.5,298.8 372.5,300 365,300"/>
<path class="l" d="M365,298.8L372.5,298.8L372.5,300M365,300L365,298.8"/>
<polyline class="l" points="343.8,237.5 351.2,237.5 351.2,241.2 357.5,243.8"/>
<polyline class="l" points="357.5,242.5 363.1,242.5"/>
<polyline class="l" points="400,238.8 402.5,248.1"/>
<polyline class="l" points="370,225 412.5,225"/>
<polygon fill="#FFFFFF" points="400,150 500,150 500,225 400,225"/>
<polyline class="l" points="412.5,150 412.5,156.2"/>
<polyline class="l" points="400,166.2 408.8,166.2"/>
<polyline class="l" points="400,150 400,166.2"/>
<polyline class="l" points="408.8,163.1 416.2,156.2 423.8,150"/>
<polyline class="l" points="408.1,164.4 415,162.5 420,160.6"/>
<polygon fill="#000" points="420.6,158.8 425.6,157.2 426.2,159.4 423.8,162.5 421.2,161.9"/>
<polyline class="l" points="426.9,163.8 431.2,162.5 437.5,157.5 442.5,153.8 450,150"/>
<polyline class="l" points="451.2,151.2 445.6,157.5 447.5,160 452.5,158.8 456.2,162.5 462.5,162.5 467.5,159.4 476.2,157.5 478.8,160.6 482.5,160.6 486.2,159.4 487.5,162.5 488.8,165.6"/>
<polygon fill="#000" points="488.8,165 495,165.2 495,167 488.8,167"/>
<polyline class="l" points="488.8,166.5 482.5,167.5 475,166.9 470,168.8 466.2,172.5 461.2,171.9 458.8,173.8 455,185"/>
<polyline class="l" points="462.5,171.2 458.8,178.8 453.8,187.5"/>
<polyline class="l" points="482.5,168.8 480,175 475,182.5 470.6,180 469.4,186.2 470,193.8 468.1,197.5 468.1,202.5 470,205 470.6,210 472.5,215 472.5,225"/>
<polyline class="l" points="485,167.5 490,171.2 496.2,175 498.8,180 498.8,187.5 496.2,192.5 492.5,195 495,197.5 500,193.8"/>
<polyline class="l" points="483.1,170 482.5,193.8"/>
<polygon fill="#000" points="473.8,170 476.2,170.6 475,175 473.1,174.4"/>
<polygon fill="#000" points="473.8,180 476.9,179.4 476.5,184.4 474,184.8"/>
<polygon class="a" fill="#00BFFF" points="468.1,195.6 475,193.8 485,194.4 490,197.5 490,205 485,203.8 480,202.5 475,205 470.6,205 468.1,202.5"/>
<polygon class="a" fill="#1E90FF" points="470.6,205 475,205 480,202.5 485,203.8 487.5,207.5 486.2,212.5 481.2,212.5 480,215 475,212.5 472.5,210"/>
<polygon fill="#00BFFF" points="472.5,215 480,215 481.2,212.5 486.2,212.5 492.5,215 500,215 500,225 472.5,225"/>
<path class="l" d="M472.5,215L480,215L481.2,212.5L486.2,212.5L492.5,215L500,215M472.5,225L472.5,215"/>
<polygon class="a" fill="#FFFFFF" points="475,218.1 485,217.5 485.6,221.2 475.6,221.9"/>
<polygon class="a" fill="#FFFFFF" points="487.5,218.8 495,218.1 495.6,221.9 488.1,222.2"/>
<polygon fill="#00BFFF" points="496.2,196.2 500,195.6 500,205 496.9,203.8"/>
<path class="l" d="M496.2,196.2L500,195.6M500,205L496.9,203.8L496.2,196.2"/>
<polygon fill="#1E90FF" points="493.1,208.8 500,208.1 500,215 492.5,215"/>
<path class="l" d="M493.1,208.8L500,208.1M500,215L492.5,215L493.1,208.8"/>
<polyline class="l" points="490,197.5 495,197.5"/>
<polyline class="l" points="490,205 495,205 495,197.5"/>
<polyline class="l" points="487.5,207.5 493.1,208.8"/>
<polygon fill="#0000EE" points="404.4,176.2 408.1,172.5 408.8,165.6 415,163.1 420,161.2 426.9,163.8 431.2,168.8 437.5,168.8 450,171.9 453.8,176.2 455,185 457.5,186.2 456.2,195 455,206.2 455.6,215 455,225 415,225 421.9,212.5 416.2,205 407.5,197.5 400,200 400,193.8 404.4,192.5"/>
<path class="l" d="M404.4,176.2L408.1,172.5L408.8,165.6L415,163.1L420,161.2L426.9,163.8L431.2,168.8L437.5,168.8L450,171.9L453.8,176.2L455,185L457.5,186.2L456.2,195L455,206.2L455.6,215L455,225M415,225L421.9,212.5L416.2,205L407.5,197.5L400,200M400,193.8L404.4,192.5L404.4,176.2"/>
<polyline class="l" points="431.2,168.8 430.6,185.6"/>
<polygon class="a" fill="#FFFFFF" points="415.6,183.1 422.5,183.1 422.5,191.2 415.6,191.9"/>
<polygon class="a" fill="#FFFFFF" points="429.4,185.6 438.8,183.8 439.4,188.8 444.4,190 444.4,193.1 437.5,193.1 436.2,191.2 429.4,190.6"/>
<polygon class="a" fill="#FFFFFF" points="444.4,191.2 448.1,191.2 448.1,195 450,195.6 450,198.8 455,199.4 455,205 450,205.6 450,212.5 447.5,217.5 443.8,218.8 440,217.5 440.6,212.5 443.8,210 443.8,205 437.5,205.6 436.2,200 437.5,196.2 444.4,195.6"/>
<polyline class="l" points="437.5,200 443.8,200 443.8,205"/>
<polyline class="l" points="443.8,200 450,200"/>
<polyline class="l" points="444.4,195.6 444.4,200"/>
<polyline class="l" points="443.8,210 450,210"/>
<polygon class="a" fill="#FFFFFF" points="401.9,198.8 407.5,195.6 411.2,197.5 412.5,201.2 416.2,203.1 416.2,206.2 410,205.6 408.1,203.1 402.5,202.5"/>
<polygon class="a" fill="#FFFFFF" points="419.4,200 423.1,200 423.1,203.1 419.4,203.1"/>
<polygon class="a" fill="#FFFFFF" points="423.1,212.5 426.2,206.9 432.5,205.6 435,206.9 431.2,210 428.8,212.5 430,215.6 436.2,216.2 436.2,219.4 428.8,218.8 423.1,216.2"/>
<polygon class="a" fill="#FFFFFF" points="440,215 446.2,214.4 446.9,223.8 441.2,223.1"/>
<polygon class="a" fill="#00BFFF" points="445,180 449.4,180 451.2,183.8 455,185 453.8,187.5 455,191.2 451.2,192.5 450,187.5 447.5,185 445,183.8"/>
<polygon class="a" fill="#00BFFF" points="450,205 455,205 455,212.5 450,212.5"/>
<polygon fill="#1E90FF" points="400,178.8 402.5,178.8 403.8,192.5 400,193.8"/>
<path class="l" d="M400,178.8L402.5,178.8L403.8,192.5L400,193.8"/>
<polygon class="a" fill="#1E90FF" points="404.4,185.6 409.4,185 410,191.2 405,191.9"/>
<polyline class="l" points="404.4,176.2 405,185.6"/>
<polygon fill="#FFFFFF" points="400,206.9 416.2,206.9 422.5,212.5 421.9,220 415,225 400,225"/>
<path class="l" d="M400,206.9L416.2,206.9L422.5,212.5L421.9,220L415,225"/>
<polyline class="l" points="402.5,220 408.8,220 408.8,215.6 411.9,215.6 411.9,223.8 402.5,223.8 402.5,220"/>
<polyline class="l" points="408.8,165.6 408.8,171.2 415,171.2 415,163.1"/>
<polygon fill="#FFFFFF" points="520,165 620,165 620,240 520,240"/>
<polyline class="l" points="520,223.8 527.5,217.5 536.2,212.5 543.1,206.9 544.4,202.5 543.1,196.9 546.9,195 552.5,193.8 561.2,193.1 567.5,191.9 569.4,187.5 568.1,182.5 570,177.5 573.8,175 575,171.2 580,165"/>
<polygon fill="#0000EE" points="575,171.2 580,165 595,165 596.2,172.5 597.5,180 592.5,182.5 591.2,186.2 593.8,190 590,194.4 583.8,195.6 575,196.2 570,193.8 567.5,191.9 569.4,187.5 571.2,185.6 575,183.8 576.2,178.8 573.8,175"/>
<path class="l" d="M575,171.2L580,165M595,165L596.2,172.5L597.5,180L592.5,182.5L591.2,186.2L593.8,190L590,194.4L583.8,195.6L575,196.2L570,193.8L567.5,191.9L569.4,187.5L571.2,185.6L575,183.8L576.2,178.8L573.8,175L575,171.2"/>
<polyline class="l" points="569.4,177.5 573.8,176.2 576.2,178.8 575,183.8 571.2,185.6 568.8,182.5 569.4,177.5"/>
<polygon class="a" fill="#FFFFFF" points="591.9,181.2 597.5,180 600,183.8 598.8,188.8 595,187.5 591.9,185"/>
<polyline class="l" points="580,178.8 581.2,186.2 583.8,180 586.2,188.8 588.1,193.8"/>
<polyline class="l" points="575,188.8 580,190 585,195"/>
<polygon class="a" fill="#00BFFF" points="543.1,196.9 546.9,195 552.5,193.8 561.2,193.1 567.5,191.9 570,193.8 567.5,197.5 568.1,202.5 570,206.2 570,209.4 561.2,211.2 556.2,213.1 548.1,216.2 546.9,215 541.2,214.4 536.2,212.5 543.1,206.9 544.4,202.5"/>
<polyline class="l" points="550,196.2 550.6,205 556.2,203.8 556.2,197.5 561.2,196.9"/>
<polygon class="a" fill="#00BFFF" points="570,193.8 575,196.2 583.8,195.6 590,194.4 593.8,190 600,190 601.9,197.5 595,200 590,201.2 585,205 587.5,208.8 582.5,208.1 578.8,205 573.8,202.5 570,201.2 568.1,202.5 567.5,197.5"/>
<polygon class="a" fill="#1E90FF" points="593.8,190 595,187.5 598.8,188.8 601.9,190 601.9,197.5 595,200 591.2,197.5"/>
<polygon fill="#1E90FF" points="590,201.2 595,200 601.9,197.5 603.1,206.2 602.5,215 601.9,225 602.5,235 601.2,240 587.5,240 590,232.5 591.2,223.8 587.5,217.5 586.2,211.2 587.5,208.8 585,205"/>
<path class="l" d="M590,201.2L595,200L601.9,197.5L603.1,206.2L602.5,215L601.9,225L602.5,235L601.2,240M587.5,240L590,232.5L591.2,223.8L587.5,217.5L586.2,211.2L587.5,208.8L585,205L590,201.2"/>
<polygon class="a" fill="#FFFFFF" points="569.4,202.5 573.8,202.5 578.8,205 582.5,208.1 578.8,208.8 572.5,208.1 570,206.2"/>
<polygon class="a" fill="#FFFFFF" points="591.2,203.8 597.5,203.1 598.8,208.1 593.8,209.4 591.2,207.5"/>
<polygon class="a" fill="#0000EE" points="548.1,216.2 556.2,213.1 561.2,211.2 570,209.4 578.8,208.8 582.5,208.1 587.5,208.8 586.2,212.5 582.5,213.8 577.5,215 576.9,220 572.5,218.8 570,216.2 566.2,217.5 563.8,220 558.8,223.8 556.2,228.8 551.2,230 547.5,226.2 546.9,220"/>
<polygon class="a" fill="#00BFFF" points="576.9,215 582.5,213.8 583.8,218.8 581.2,223.8 577.5,222.5 576.9,220"/>
<polygon fill="#00BFFF" points="556.2,228.8 562.5,226.2 567.5,227.5 572.5,225 577.5,223.8 581.2,223.8 580,227.5 575,230 570,232.5 565,236.2 562.5,240 557.5,240 561.2,235 557.5,232.5"/>
<path class="l" d="M556.2,228.8L562.5,226.2L567.5,227.5L572.5,225L577.5,223.8L581.2,223.8L580,227.5L575,230L570,232.5L565,236.2L562.5,240M557.5,240L561.2,235L557.5,232.5L556.2,228.8"/>
<polygon class="a" fill="#0000EE" points="566.2,235 570,232.5 575,230 577.5,231.2 575,235 572.5,238.8 567.5,238.8"/>
<polygon class="a" fill="#0000EE" points="581.2,221.2 586.2,220 590,223.8 588.1,227.5 583.8,226.2"/>
<polygon fill="#1E90FF" points="572.5,238.8 577.5,235 582.5,232.5 587.5,230 590,232.5 587.5,240 573.8,240"/>
<path class="l" d="M572.5,238.8L577.5,235L582.5,232.5L587.5,230L590,232.5L587.5,240M573.8,240L572.5,238.8"/>
<polyline class="l" points="531.2,220 536.2,215 546.9,215"/>
<polyline class="l" points="547.5,226.2 542.5,227.5 536.2,230 532.5,227.5 531.2,220"/>
<polyline class="l" points="538.8,215 540,227.5"/>
<polyline class="l" points="562.5,218.8 566.2,217.5 570,216.2 572.5,218.8 570,222.5 566.2,223.8 563.8,221.2 562.5,218.8"/>
<polyline class="l" points="557.5,225 562.5,223.8 563.8,227.5 560,230"/>
<polyline class="l" points="545.6,230 551.2,230 557.5,232.5 556.2,237.5 550,236.2 546.2,235 545.6,230"/>
<polyline class="l" points="551.2,230 550.6,236.2"/>
<polygon class="a" fill="#1E90FF" points="532.5,215 538.8,213.1 540,217.5 535,220 531.9,218.8"/>
<polygon class="a" fill="#0000EE" points="526.9,218.8 531.9,218.8 532.5,222.5 528.8,223.8"/>
<polygon fill="#1E90FF" points="520,223.8 526.9,221.2 527.5,230 522.5,231.2 520,230"/>
<path class="l" d="M520,223.8L526.9,221.2L527.5,230L522.5,231.2L520,230"/>
<polygon fill="#1E90FF" points="522.5,232.5 527.5,232.5 530,240 520,240"/>
<path class="l" d="M522.5,232.5L527.5,232.5L530,240M520,240L522.5,232.5"/>
<polygon class="a" fill="#0000EE" points="528.8,232.5 533.8,231.9 534.4,236.2 530,236.9"/>
<polyline class="l" points="527.5,230 532.5,227.5"/>
<polyline class="l" points="536.2,230 535,240"/>
<polyline class="l" points="542.5,227.5 543.8,235 546.2,235"/>
<polyline class="l" points="596.2,165 600,172.5 597.5,180"/>
<polyline class="l" points="600,172.5 610,173.8 612.5,165"/>
<polyline class="l" points="610,173.8 609.4,190 601.9,190"/>
<polyline class="l" points="609.4,181.2 620,180"/>
<polyline class="l" points="615,165 616.2,172.5 615,180"/>
<polyline class="l" points="609.4,190 620,188.8"/>
<polyline class="l" points="602.5,193.8 606.2,193.8"/>
<polygon fill="#0000EE" points="606.2,193.8 612.5,193.1 615,196.2 620,195 620,200 615,201.2 610,200 606.2,197.5"/>
<path class="l" d="M606.2,193.8L612.5,193.1L615,196.2L620,195M620,200L615,201.2L610,200L606.2,197.5L606.2,193.8"/>
<polyline class="l" points="603.1,202.5 610,200"/>
<polyline class="l" points="607.5,200.6 608.1,206.2 603.1,206.2"/>
<polyline class="l" points="608.1,206.2 615,205 615,201.2"/>
<polyline class="l" points="615,205 620,203.8"/>
<polyline class="l" points="602.5,210 610,208.1 620,206.9"/>
<polyline class="l" points="610,208.1 610.6,215"/>
<polyline class="l" points="616.2,207.5 616.9,213.1"/>
<polyline class="l" points="602.5,215 610.6,215 620,212.5"/>
<polygon fill="#1E90FF" points="602.5,220.6 610,217.5 620,213.1 620,215 611.2,220 603.8,223.8"/>
<path class="l" d="M602.5,220.6L610,217.5L620,213.1M620,215L611.2,220L603.8,223.8L602.5,220.6"/>
<polygon fill="#000" points="612.5,182.5 616.2,181.9 616.5,185 613.1,185.2"/>
<polygon fill="#FFFFFF" points="520,240 620,240 620,315 520,315"/>
<polygon fill="#AFEEEE" points="520,252.5 525,253.8 528.8,250 536.2,248.8 545,252.5 557.5,252.5 562.5,250 570,256.2 578.8,256.2 580,265 581.2,281.2 567.5,287.5 572.5,292.5 578.8,298.8 580,307.5 572.5,315 520,315"/>
<polyline class="l" points="601.2,240 600,245 597.5,250 596.2,257.5 595,265 592.5,272.5 591.9,277.5 595,282.5 598.8,290 601.2,295 600,301.2 595,307.5 590,313.8"/>
<polygon fill="#0000EE" points="520,240 532.5,240 531.9,246.2 528.8,250 525,253.8 520,252.5"/>
<path class="l" d="M532.5,240L531.9,246.2L528.8,250L525,253.8L520,252.5"/>
<polygon fill="#00BFFF" points="520,254.4 523.8,255 524.4,258.8 520,260"/>
<path class="l" d="M520,254.4L523.8,255L524.4,258.8L520,260"/>
<polyline class="l" points="528.8,250 536.2,248.8 545,252.5 557.5,252.5 562.5,250"/>
<polygon class="a" fill="#FFFFFF" points="525,265 532.5,263.8 536.2,268.8 533.8,275 527.5,276.2 523.8,270"/>
<polyline class="l" points="528.8,264.4 530,275.6"/>
<polygon class="a" fill="#FFFFFF" points="537.5,281.2 543.8,279.4 548.8,281.2 550,286.2 543.8,287.5 538.8,286.2"/>
<polygon class="a" fill="#FFFFFF" points="545,275 550,273.8 551.2,278.8 546.9,281.2"/>
<polygon class="a" fill="#FFFFFF" points="555,258.8 558.8,260 560,263.8 556.2,265 553.8,262.5"/>
<polygon class="a" fill="#FFFFFF" points="557.5,289.4 561.2,290 561.2,298.8 557.5,298.8"/>
<polygon class="a" fill="#FFFFFF" points="571.2,300 575.6,300 576.2,306.2 571.9,306.2"/>
<polygon class="a" fill="#FFFFFF" points="558.8,307.5 566.2,306.2 567.5,311.2 561.2,313.8"/>
<polygon class="a" fill="#00BFFF" points="533.8,265 538.8,261.9 545,263.1 546.9,266.9 545,271.2 540.6,273.8 538.8,277.5 531.2,283.8 527.5,281.2 522.5,278.8 525,275 527.5,276.2 533.8,275 536.2,268.8"/>
<polygon class="a" fill="#00BFFF" points="551.9,263.8 556.9,265 557.5,269.4 553.1,270"/>
<polygon class="a" fill="#00BFFF" points="561.9,252.5 566.2,250 572.5,252.5 575,258.8 573.8,263.8 570,265 565,263.8 562.5,258.8"/>
<polygon class="a" fill="#00BFFF" points="570,265 573.8,263.8 577.5,267.5 580,272.5 581.2,281.2 575,283.8 571.2,278.8 566.2,276.2 567.5,270"/>
<polygon class="a" fill="#0000EE" points="551.9,283.8 557.5,282.5 562.5,277.5 565.6,276.2 571.2,278.8 575,283.8 581.2,281.2 581.2,284.4 575,286.2 567.5,287.2 557.5,288.8 551.9,289.4"/>
<polygon class="a" fill="#1E90FF" points="543.8,292.5 548.1,291.9 549.4,301.2 546.2,302.5 543.1,296.2"/>
<polygon class="a" fill="#00BFFF" points="530,301.2 536.2,300 540,305 536.2,306.2 531.2,305.6"/>
<polygon fill="#1E90FF" points="520,291.2 525,290 527.5,292.5 523.8,295 520,295.6"/>
<path class="l" d="M520,291.2L525,290L527.5,292.5L523.8,295L520,295.6"/>
<polygon class="a" fill="#0000EE" points="525,290 530,290 528.8,295 526.9,293.8"/>
<polygon class="a" fill="#00BFFF" points="568.1,242.5 572.5,243.8 576.2,250 578.8,256.2 575,258.8 572.5,252.5 568.8,248.8"/>
<polygon class="a" fill="#1E90FF" points="585,240.6 595,240.6 595,243.5 585.6,243.1"/>
<polyline class="l" points="532.5,240 533.8,247.5 540,245 545,247.5 548.8,242.5 557.5,243.8 562.5,240"/>
<polyline class="l" points="545,247.5 545,252.5"/>
<polyline class="l" points="557.5,243.8 560,250 562.5,250"/>
<polyline class="l" points="567.5,240 568.1,242.5"/>
<polyline class="l" points="520,268.8 523.8,270"/>
<polyline class="l" points="520,280 522.5,278.8"/>
<polyline class="l" points="536.2,248.8 537.5,261.2 538.8,261.9"/>
<polyline class="l" points="545,252.5 546.9,266.9"/>
<polyline class="l" points="552.5,253.8 553.8,262.5"/>
<polyline class="l" points="557.5,269.4 560,280 562.5,277.5"/>
<polyline class="l" points="545,271.2 550,273.8"/>
<polyline class="l" points="551.2,278.8 560,280"/>
<polyline class="l" points="538.8,277.5 545,275"/>
<polyline class="l" points="531.2,283.8 537.5,281.2"/>
<polyline class="l" points="520,286.2 527.5,287.5 538.8,286.2"/>
<polyline class="l" points="527.5,287.5 530,290"/>
<polyline class="l" points="550,286.2 551.9,289.4 552.5,295 549.4,301.2"/>
<polyline class="l" points="552.5,295 557.5,295"/>
<polyline class="l" points="561.2,290 567.5,287.2"/>
<polyline class="l" points="561.2,298.8 567.5,297.5 572.5,292.5"/>
<polyline class="l" points="563.8,302.5 571.2,300"/>
<polyline class="l" points="549.4,301.2 551.2,307.5 558.8,307.5"/>
<polyline class="l" points="536.2,306.2 538.8,315"/>
<polyline class="l" points="540,305 546.2,302.5"/>
<polyline class="l" points="551.2,307.5 550,315"/>
<polyline class="l" points="567.5,311.2 572.5,315"/>
<polyline class="l" points="520,302.5 530,301.2"/>
<polyline class="l" points="523.8,295 525,302.5"/>
<polyline class="l" points="533.8,295 543.1,296.2"/>
<polyline class="l" points="533.8,295 532.5,290"/>
<polyline class="l" points="580,240 581.2,247.5 585,252.5 582.5,258.8 586.2,265 583.8,271.2 587.5,277.5 585,281.2"/>
<polyline class="l" points="585,240 587.5,247.5 590,252.5 588.1,258.8 591.2,265 589.4,271.2 591.9,277.5"/>
<polyline class="l" points="590,240 592.5,246.2 595,252.5 593.8,258.8 595,265"/>
<polyline class="l" points="595,243.8 597.5,250"/>
<polyline class="l" points="581.2,247.5 600,245"/>
<polyline class="l" points="578.8,256.2 585,252.5 596.2,257.5"/>
<polyline class="l" points="580,265 586.2,265 595,265"/>
<polyline class="l" points="580,272.5 583.8,271.2 592.5,272.5"/>
<polyline class="l" points="581.2,284.4 587.5,282.5 595,282.5"/>
<polyline class="l" points="582.5,290 590,287.5 598.8,290"/>
<polyline class="l" points="575,286.2 582.5,290 578.8,298.8"/>
<polyline class="l" points="582.5,290 585,296.2 595,295 601.2,295"/>
<polyline class="l" points="585,296.2 582.5,302.5 590,302.5 600,301.2"/>
<polyline class="l" points="580,307.5 582.5,302.5"/>
<polyline class="l" points="590,302.5 587.5,310 595,307.5"/>
<polyline class="l" points="587.5,310 580,312.5"/>
<polygon fill="#000" points="585,257.5 588.1,258.8 590,263.8 587.5,265 585.6,261.2"/>
<polygon fill="#000" points="592.5,283.8 595,283.1 597.5,290 595.6,292.5 593.8,288.8"/>
<polygon fill="#000" points="587.5,298.8 591.2,297.5 591.9,301.2 588.5,301.9"/>
<polygon fill="#AFEEEE" points="568.7,287.2 579.2,292.5 580,307.5 574.7,313.5 570.2,309"/>
<polyline class="l" points="569.5,288 580,295.5"/>
<polyline class="l" points="579.2,292.5 574,313.5"/>
<polygon class="a" fill="#FFFFFF" points="570.2,289.5 576.2,291 577,296.2 571.7,295.5"/>
<polyline class="l" points="86.2,376.2 97.5,373.8 105,367.5 117.5,365.5 126.2,363 132.5,368 140,371.2 150,375 165,379.5 175,381.2 178.8,385 173.8,417.5 168.8,448.8"/>
<polyline class="l" points="168.8,448.8 176.2,450 180,455 185,457.5"/>
<polyline class="l" points="168.8,448.8 160,448.8 152.5,445 147.5,440 143.8,437.5 142.5,446.2 138.8,441.2 135,436.2 130,438.8 127.5,442.5 122.5,446.2 115,455 102.5,462.5 90,465 72.5,470 71.2,472.5 85,466.2 97.5,460 107.5,452.5 106.2,448.8 101.2,450 98.8,446.2 90,446.2 88.8,440 81.2,435 80,427.5 77.5,423.8 81.2,417.5 86.2,413.8 98.8,412.5 101.2,406.2 93.8,405 82.5,403.8 81.2,398.8 77.5,394.5 82.5,391.2 92.5,390 102.5,395 100,390 93.8,382.5 86.2,376.2"/>
<polyline class="l" points="127.5,424.5 151.2,423.2 152.5,427.5 150,435 126.2,434.5 127.5,424.5"/>
<polyline class="l" points="146.2,411.2 155,410 163.8,415 157.5,418 148.8,417.5 146.2,413.8 146.2,411.2"/>
<polyline class="l" points="61.2,403.8 65,403.8 71.2,409.5 67.5,410 61.2,406.2 61.2,403.8"/>
<polyline class="l" points="71.2,431.2 76.2,430 77.5,433.8 73.8,435 71.2,431.2"/>
<polyline class="l" points="50,423.8 53.8,425.5"/>
<polyline class="l" points="115,458.8 122.5,455 125,458.8 118.8,463.8 114.5,462.5 115,458.8"/>
<polygon fill="#000" points="53.8,477.5 65,473.8 66.2,475.8 55,479.5"/>
<polyline class="l" points="128.8,447.5 133.8,442.5 138.8,443.8 135,448.8 128.8,450"/>
<polyline class="l" points="183.8,456.2 188.8,455 193.8,463.8 198.8,473.8 205,485 205,491.2 198.8,492.5 193.8,482.5 188.8,472.5 185,463.8 183.8,456.2"/>
<polyline class="l" points="186.2,457.5 190,467.5 195,477.5 200,488.8"/>
<polyline class="l" points="190,456.2 193.8,467.5 198.8,477.5 203.8,488.8"/>
<polyline class="l" points="187.5,462.5 192.5,461.2"/>
<polyline class="l" points="190,470 196.2,467.5"/>
<polyline class="l" points="192.5,477.5 200,475"/>
<polyline class="l" points="195,485 203.8,482.5"/>
<polyline class="l" points="185,460 191.2,475 197.5,490"/>
<polygon fill="#000" points="184.5,457 187.5,456 189.5,461.2 186.5,462.5"/>
<polygon fill="#000" points="188,463.8 191,462.5 193,468.8 190,470"/>
<polygon fill="#000" points="191.5,471.2 194.5,470 197,476.2 193.5,477.5"/>
<polygon fill="#000" points="195,478.8 198.5,477.5 200.5,483.8 197,485"/>
<polygon fill="#000" points="198.5,485 202,484 204,490 200,491.5"/>
<polygon fill="#000" points="192.5,460 195,459.5 196.5,464.5 194,465.5"/>
<polygon fill="#000" points="197.5,470 200,469.5 202,475 199.5,476"/>
<polygon fill="#000" points="201.2,478.8 203.8,478.2 205.5,484.5 203,485"/>
<polygon fill="#000" points="6.9,292.8 8.1,292.8 8.8,294.8 7.2,294.8"/>
<polyline class="l" points="204,426 209,425.6 210,429 207,430.6 204,428.4 204,426"/>
<polygon fill="#000" points="197.6,429 200,427.6 200.4,428.6 198.4,430.4"/>
<polyline class="l" points="222,436 225.6,434.6 228,438 228.4,441 225,440.4 222,438.4 222,436"/>
<polyline class="l" points="233,443 237,442.4 240,445 244,446.6 248,448 249,451 245,452.4 241,452 240,449 237,448 234,445.6 233,443"/>
<polyline class="l" points="236,446 239,447"/>
<polyline class="l" points="248,460 251,457.6 255,459 259,463 261.6,468 259,471 254,473 250,476 247.6,474 248,469 246.4,464 248,460"/>
<polygon fill="#000" points="755.5,500.5 760,498.5 765,497.5 772,496 778,496 777.5,500 776,502.5 770,504.5 765,506.5 758,508.5 756,505"/>
<polygon fill="#AFEEEE" points="764.5,498.7 772,497.2 776,497.2 775.5,499.8 774,501.3 770,500.8 766,501.5"/>
<polygon fill="#FFFFFF" points="757,501 759.5,501 759.5,502.8 757,502.8"/>
<polygon fill="#FFFFFF" points="760,499.8 763.5,499.6 763.5,500.8 760,501"/>
<polygon fill="#FFFFFF" points="764,503.2 766.5,503 766.5,505 764,505.2"/>
<polygon fill="#FFFFFF" points="768,502.5 770.5,502.2 770.5,503.8 768,504"/>
<polygon fill="#FFFFFF" points="758.5,505.2 760.5,505 760.5,506.8 758.5,507"/>
<polygon fill="#000" points="783,493.5 788.5,492 789,493.5 784,495"/>
<polygon fill="#000" points="788,501 792,499.8 793,500.8 789.5,502.8"/>
<polygon fill="#000" points="780,495 782,495 782,496.5 780,496.5"/>
<polygon fill="#000" points="779,498 782,497.8 781.5,499.2 779,499.5"/>
<polygon fill="#000" points="746.8,508 749,508 749,509.8 746.8,509.8"/>
<polygon fill="#000" points="752,503 753,503 753,504 752,504"/>
</g>
<text class="t" x="4" y="22" textLength="794" lengthAdjust="spacingAndGlyphs">Annual mean wage of machine feeders and offbearers, by area, May 2020</text>
<text class="h" x="460.5" y="530.5" textLength="123.5" lengthAdjust="spacing">Annual mean wage</text>
<rect class="s" x="387.5" y="548.5" width="10" height="9" fill="#AFEEEE"/>
<text class="g" x="402.5" y="557.5" textLength="102.5" lengthAdjust="spacing">$21,300 - $30,540</text>
<rect class="s" x="533.5" y="548.5" width="10" height="9" fill="#00BFFF"/>
<text class="g" x="547.6" y="557.5" textLength="102.5" lengthAdjust="spacing">$30,550 - $33,600</text>
<rect class="s" x="387.5" y="563.5" width="10" height="9" fill="#1E90FF"/>
<text class="g" x="402.5" y="572.5" textLength="102.5" lengthAdjust="spacing">$33,680 - $36,530</text>
<rect class="s" x="533.5" y="563.5" width="10" height="9" fill="#0000EE"/>
<text class="g" x="547.6" y="572.5" textLength="102.5" lengthAdjust="spacing">$36,540 - $58,880</text>
<text class="g" x="286.8" y="596" textLength="225" lengthAdjust="spacing">Blank areas indicate data not available.</text>
</svg>
</body></html>
